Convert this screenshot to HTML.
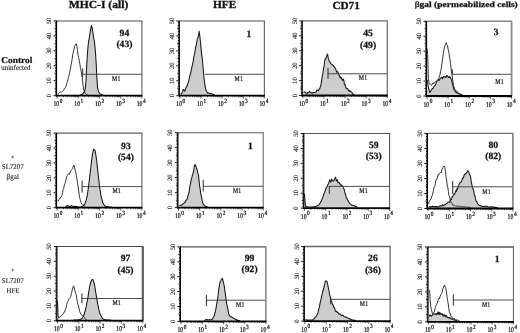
<!DOCTYPE html>
<html><head><meta charset="utf-8"><title>figure</title>
<style>
html,body{margin:0;padding:0;background:#fff;}
body{width:520px;height:333px;overflow:hidden;}
svg{display:block;filter:grayscale(1);}
text{font-family:"Liberation Serif",serif;fill:#111;text-rendering:geometricPrecision;}
.ttl{font-size:10.8px;font-weight:bold;stroke:#111;stroke-width:0.3px;}
.ttl2{font-size:8px;font-weight:bold;stroke:#111;stroke-width:0.25px;}
.num{font-size:9.6px;font-weight:bold;stroke:#111;stroke-width:0.25px;}
.m1{font-size:7.3px;fill:#111;stroke:#111;stroke-width:0.2px;letter-spacing:0.3px;}
.xl{font-size:7.3px;fill:#000;stroke:#000;stroke-width:0.2px;}
.sup{font-size:6.3px;fill:#000;stroke:#000;stroke-width:0.2px;}
.yl{font-size:6.6px;fill:#111;stroke:#111;stroke-width:0.1px;}
.rl1{font-size:9px;font-weight:bold;stroke:#111;stroke-width:0.2px;}
.rl2{font-size:7.3px;fill:#222;stroke:#222;stroke-width:0.12px;}
.plus{font-size:6px;fill:#111;font-weight:bold;}
</style></head><body>
<svg width="520" height="333" viewBox="0 0 520 333">
<rect width="520" height="333" fill="#fff"/>
<path d="M79.5 95.1L80.1 94.9L80.7 94.8L81.3 94.7L81.9 94.3L82.5 94.0L83.1 93.4L83.7 92.6L84.3 91.9L84.9 90.3L85.5 86.3L86.1 78.7L86.7 65.3L87.3 56.0L87.9 47.9L88.5 42.0L89.1 38.9L89.7 34.7L90.3 31.3L90.9 28.2L91.5 25.4L92.1 27.6L92.7 31.3L93.3 35.4L93.9 39.0L94.5 42.4L95.1 48.4L95.7 55.8L96.3 65.7L96.9 78.6L97.5 87.0L98.1 90.1L98.7 91.8L99.3 92.7L99.9 93.5L100.5 94.1L101.1 94.2L101.7 94.6L102.3 94.8L102.9 95.0L103.5 95.0L103.5 95.1 L79.5 95.1 Z" fill="#cdcdcd" stroke="none"/>
<path d="M79.5 95.1L80.1 94.9L80.7 94.8L81.3 94.7L81.9 94.3L82.5 94.0L83.1 93.4L83.7 92.6L84.3 91.9L84.9 90.3L85.5 86.3L86.1 78.7L86.7 65.3L87.3 56.0L87.9 47.9L88.5 42.0L89.1 38.9L89.7 34.7L90.3 31.3L90.9 28.2L91.5 25.4L92.1 27.6L92.7 31.3L93.3 35.4L93.9 39.0L94.5 42.4L95.1 48.4L95.7 55.8L96.3 65.7L96.9 78.6L97.5 87.0L98.1 90.1L98.7 91.8L99.3 92.7L99.9 93.5L100.5 94.1L101.1 94.2L101.7 94.6L102.3 94.8L102.9 95.0L103.5 95.0" fill="none" stroke="#151515" stroke-width="1.05" stroke-linejoin="round"/>
<path d="M57.7 93.9L58.3 93.7L58.9 93.0L59.5 92.5L60.1 92.4L60.7 92.0L61.3 92.0L61.9 91.8L62.5 91.4L63.1 90.7L63.7 90.2L64.3 88.6L64.9 88.4L65.5 87.2L66.1 86.0L66.7 83.4L67.3 81.8L67.9 79.6L68.5 77.6L69.1 74.8L69.7 72.3L70.3 69.3L70.9 66.0L71.5 62.9L72.1 59.2L72.7 54.9L73.3 52.1L73.9 49.6L74.5 46.7L75.1 45.3L75.7 44.2L76.3 43.8L76.9 46.4L77.5 50.4L78.1 55.2L78.7 57.7L79.3 60.6L79.9 64.2L80.5 68.2L81.1 70.9L81.7 74.9L82.3 77.8L82.9 84.2L83.5 88.9L84.1 91.0L84.7 92.5L85.3 93.4L85.9 93.9L86.5 94.3L87.1 94.7L87.7 94.8" fill="none" stroke="#2a2a2a" stroke-width="0.95" stroke-linejoin="round"/>
<path d="M82.7 74.3 H141.9" stroke="#3a3a3a" stroke-width="0.9" fill="none"/>
<path d="M82.7 68.3 V77.3" stroke="#2a2a2a" stroke-width="1" fill="none"/>
<text transform="translate(116.4 80.9) scale(0.8 1)" class="m1" text-anchor="middle">M1</text>
<path d="M56.6 20.9 H142.4" stroke="#8a8a8a" stroke-width="1.5" fill="none"/>
<path d="M141.9 20.9 V95.7" stroke="#4a4a4a" stroke-width="1.0" fill="none"/>
<path d="M56.5 20.6 V96.6" stroke="#000" stroke-width="1.2" fill="none"/>
<path d="M55.9 95.7 H142.4" stroke="#000" stroke-width="1.8" fill="none"/>
<path d="M56.5 95.70 h-3.0M56.5 94.20 h-1.4M56.5 92.71 h-1.4M56.5 91.21 h-1.4M56.5 89.72 h-1.4M56.5 88.22 h-2.0M56.5 86.72 h-1.4M56.5 85.23 h-1.4M56.5 83.73 h-1.4M56.5 82.24 h-1.4M56.5 80.74 h-3.0M56.5 79.24 h-1.4M56.5 77.75 h-1.4M56.5 76.25 h-1.4M56.5 74.76 h-1.4M56.5 73.26 h-2.0M56.5 71.76 h-1.4M56.5 70.27 h-1.4M56.5 68.77 h-1.4M56.5 67.28 h-1.4M56.5 65.78 h-3.0M56.5 64.28 h-1.4M56.5 62.79 h-1.4M56.5 61.29 h-1.4M56.5 59.80 h-1.4M56.5 58.30 h-2.0M56.5 56.80 h-1.4M56.5 55.31 h-1.4M56.5 53.81 h-1.4M56.5 52.32 h-1.4M56.5 50.82 h-3.0M56.5 49.32 h-1.4M56.5 47.83 h-1.4M56.5 46.33 h-1.4M56.5 44.84 h-1.4M56.5 43.34 h-2.0M56.5 41.84 h-1.4M56.5 40.35 h-1.4M56.5 38.85 h-1.4M56.5 37.36 h-1.4M56.5 35.86 h-3.0M56.5 34.36 h-1.4M56.5 32.87 h-1.4M56.5 31.37 h-1.4M56.5 29.88 h-1.4M56.5 28.38 h-2.0M56.5 26.88 h-1.4M56.5 25.39 h-1.4M56.5 23.89 h-1.4M56.5 22.40 h-1.4M56.5 20.90 h-3.0" stroke="#000" stroke-width="0.95" fill="none"/>
<path d="M57.10 95.7 v2.8M63.48 95.7 v1.6M67.21 95.7 v1.6M69.86 95.7 v1.6M71.92 95.7 v1.6M73.60 95.7 v1.6M75.02 95.7 v1.6M76.25 95.7 v1.6M77.33 95.7 v1.6M78.30 95.7 v2.8M84.68 95.7 v1.6M88.41 95.7 v1.6M91.06 95.7 v1.6M93.12 95.7 v1.6M94.80 95.7 v1.6M96.22 95.7 v1.6M97.45 95.7 v1.6M98.53 95.7 v1.6M99.50 95.7 v2.8M105.88 95.7 v1.6M109.61 95.7 v1.6M112.26 95.7 v1.6M114.32 95.7 v1.6M116.00 95.7 v1.6M117.42 95.7 v1.6M118.65 95.7 v1.6M119.73 95.7 v1.6M120.70 95.7 v2.8M127.08 95.7 v1.6M130.81 95.7 v1.6M133.46 95.7 v1.6M135.52 95.7 v1.6M137.20 95.7 v1.6M138.62 95.7 v1.6M139.85 95.7 v1.6M140.93 95.7 v1.6M141.90 95.7 v2.8" stroke="#000" stroke-width="0.6" fill="none"/>
<text transform="translate(53.5 106.3) scale(0.78 1)" class="xl">10</text>
<text transform="translate(59.8 103.0) scale(0.85 1)" class="sup">0</text>
<text transform="translate(74.3 106.3) scale(0.78 1)" class="xl">10</text>
<text transform="translate(80.6 103.0) scale(0.85 1)" class="sup">1</text>
<text transform="translate(95.1 106.3) scale(0.78 1)" class="xl">10</text>
<text transform="translate(101.4 103.0) scale(0.85 1)" class="sup">2</text>
<text transform="translate(115.9 106.3) scale(0.78 1)" class="xl">10</text>
<text transform="translate(122.2 103.0) scale(0.85 1)" class="sup">3</text>
<text transform="translate(136.7 106.3) scale(0.78 1)" class="xl">10</text>
<text transform="translate(143.0 103.0) scale(0.85 1)" class="sup">4</text>
<text transform="translate(50.8 95.7) rotate(-90)" class="yl" text-anchor="middle">0</text>
<text transform="translate(50.8 80.7) rotate(-90)" class="yl" text-anchor="middle">10</text>
<text transform="translate(50.8 65.8) rotate(-90)" class="yl" text-anchor="middle">20</text>
<text transform="translate(50.8 50.8) rotate(-90)" class="yl" text-anchor="middle">30</text>
<text transform="translate(50.8 35.9) rotate(-90)" class="yl" text-anchor="middle">40</text>
<text transform="translate(50.8 20.9) rotate(-90)" class="yl" text-anchor="middle">50</text>
<text x="124.4" y="35.9" class="num" text-anchor="middle">94</text>
<text x="124.4" y="47.2" class="num" text-anchor="middle">(43)</text>
<path d="M180.6 94.4L181.2 93.6L181.8 93.3L182.4 92.2L183.0 89.8L183.6 89.6L184.2 90.4L184.8 91.1L185.4 89.5L186.0 87.7L186.6 86.2L187.2 85.8L187.8 83.6L188.4 82.1L189.0 79.5L189.6 76.8L190.2 74.4L190.8 72.3L191.4 69.3L192.0 66.6L192.6 64.2L193.2 61.2L193.8 57.1L194.4 54.5L195.0 51.5L195.6 47.5L196.2 45.4L196.8 41.9L197.4 38.3L198.0 37.5L198.6 35.3L199.2 31.2L199.8 36.1L200.4 41.3L201.0 47.6L201.6 53.9L202.2 57.9L202.8 64.2L203.4 71.8L204.0 77.8L204.6 82.6L205.2 86.3L205.8 89.8L206.4 90.9L207.0 92.1L207.6 93.1L208.2 92.8L208.8 93.0L209.4 93.4L210.0 93.5L210.6 93.6L211.2 93.5L211.8 93.9L212.4 94.0L213.0 94.4L213.6 94.4L214.2 94.6L214.8 94.9L214.8 95.1 L180.6 95.1 Z" fill="#cdcdcd" stroke="none"/>
<path d="M180.6 94.4L181.2 93.6L181.8 93.3L182.4 92.2L183.0 89.8L183.6 89.6L184.2 90.4L184.8 91.1L185.4 89.5L186.0 87.7L186.6 86.2L187.2 85.8L187.8 83.6L188.4 82.1L189.0 79.5L189.6 76.8L190.2 74.4L190.8 72.3L191.4 69.3L192.0 66.6L192.6 64.2L193.2 61.2L193.8 57.1L194.4 54.5L195.0 51.5L195.6 47.5L196.2 45.4L196.8 41.9L197.4 38.3L198.0 37.5L198.6 35.3L199.2 31.2L199.8 36.1L200.4 41.3L201.0 47.6L201.6 53.9L202.2 57.9L202.8 64.2L203.4 71.8L204.0 77.8L204.6 82.6L205.2 86.3L205.8 89.8L206.4 90.9L207.0 92.1L207.6 93.1L208.2 92.8L208.8 93.0L209.4 93.4L210.0 93.5L210.6 93.6L211.2 93.5L211.8 93.9L212.4 94.0L213.0 94.4L213.6 94.4L214.2 94.6L214.8 94.9" fill="none" stroke="#151515" stroke-width="1.05" stroke-linejoin="round"/>
<path d="M204.9 74.3 H264.4" stroke="#3a3a3a" stroke-width="0.9" fill="none"/>
<text transform="translate(238.8 80.7) scale(0.8 1)" class="m1" text-anchor="middle">M1</text>
<path d="M179.4 21.0 H264.9" stroke="#8a8a8a" stroke-width="1.4" fill="none"/>
<path d="M264.4 21.0 V95.7" stroke="#6a6a6a" stroke-width="1.2" fill="none"/>
<path d="M179.3 20.7 V96.6" stroke="#000" stroke-width="1.2" fill="none"/>
<path d="M178.7 95.7 H264.9" stroke="#000" stroke-width="1.8" fill="none"/>
<path d="M179.3 95.70 h-3.0M179.3 94.21 h-1.4M179.3 92.71 h-1.4M179.3 91.22 h-1.4M179.3 89.72 h-1.4M179.3 88.23 h-2.0M179.3 86.74 h-1.4M179.3 85.24 h-1.4M179.3 83.75 h-1.4M179.3 82.25 h-1.4M179.3 80.76 h-3.0M179.3 79.27 h-1.4M179.3 77.77 h-1.4M179.3 76.28 h-1.4M179.3 74.78 h-1.4M179.3 73.29 h-2.0M179.3 71.80 h-1.4M179.3 70.30 h-1.4M179.3 68.81 h-1.4M179.3 67.31 h-1.4M179.3 65.82 h-3.0M179.3 64.33 h-1.4M179.3 62.83 h-1.4M179.3 61.34 h-1.4M179.3 59.84 h-1.4M179.3 58.35 h-2.0M179.3 56.86 h-1.4M179.3 55.36 h-1.4M179.3 53.87 h-1.4M179.3 52.37 h-1.4M179.3 50.88 h-3.0M179.3 49.39 h-1.4M179.3 47.89 h-1.4M179.3 46.40 h-1.4M179.3 44.90 h-1.4M179.3 43.41 h-2.0M179.3 41.92 h-1.4M179.3 40.42 h-1.4M179.3 38.93 h-1.4M179.3 37.43 h-1.4M179.3 35.94 h-3.0M179.3 34.45 h-1.4M179.3 32.95 h-1.4M179.3 31.46 h-1.4M179.3 29.96 h-1.4M179.3 28.47 h-2.0M179.3 26.98 h-1.4M179.3 25.48 h-1.4M179.3 23.99 h-1.4M179.3 22.49 h-1.4M179.3 21.00 h-3.0" stroke="#000" stroke-width="0.95" fill="none"/>
<path d="M179.90 95.7 v2.8M186.26 95.7 v1.6M189.98 95.7 v1.6M192.62 95.7 v1.6M194.67 95.7 v1.6M196.34 95.7 v1.6M197.75 95.7 v1.6M198.98 95.7 v1.6M200.06 95.7 v1.6M201.03 95.7 v2.8M207.38 95.7 v1.6M211.10 95.7 v1.6M213.74 95.7 v1.6M215.79 95.7 v1.6M217.46 95.7 v1.6M218.88 95.7 v1.6M220.10 95.7 v1.6M221.18 95.7 v1.6M222.15 95.7 v2.8M228.51 95.7 v1.6M232.23 95.7 v1.6M234.87 95.7 v1.6M236.92 95.7 v1.6M238.59 95.7 v1.6M240.00 95.7 v1.6M241.23 95.7 v1.6M242.31 95.7 v1.6M243.27 95.7 v2.8M249.63 95.7 v1.6M253.35 95.7 v1.6M255.99 95.7 v1.6M258.04 95.7 v1.6M259.71 95.7 v1.6M261.13 95.7 v1.6M262.35 95.7 v1.6M263.43 95.7 v1.6M264.40 95.7 v2.8" stroke="#000" stroke-width="0.6" fill="none"/>
<text transform="translate(176.3 106.3) scale(0.78 1)" class="xl">10</text>
<text transform="translate(182.6 103.0) scale(0.85 1)" class="sup">0</text>
<text transform="translate(197.1 106.3) scale(0.78 1)" class="xl">10</text>
<text transform="translate(203.4 103.0) scale(0.85 1)" class="sup">1</text>
<text transform="translate(217.9 106.3) scale(0.78 1)" class="xl">10</text>
<text transform="translate(224.2 103.0) scale(0.85 1)" class="sup">2</text>
<text transform="translate(238.7 106.3) scale(0.78 1)" class="xl">10</text>
<text transform="translate(245.0 103.0) scale(0.85 1)" class="sup">3</text>
<text transform="translate(259.5 106.3) scale(0.78 1)" class="xl">10</text>
<text transform="translate(265.8 103.0) scale(0.85 1)" class="sup">4</text>
<text transform="translate(173.6 95.7) rotate(-90)" class="yl" text-anchor="middle">0</text>
<text transform="translate(173.6 80.8) rotate(-90)" class="yl" text-anchor="middle">10</text>
<text transform="translate(173.6 65.8) rotate(-90)" class="yl" text-anchor="middle">20</text>
<text transform="translate(173.6 50.9) rotate(-90)" class="yl" text-anchor="middle">30</text>
<text transform="translate(173.6 35.9) rotate(-90)" class="yl" text-anchor="middle">40</text>
<text transform="translate(173.6 21.0) rotate(-90)" class="yl" text-anchor="middle">50</text>
<text x="248.9" y="36.6" class="num" text-anchor="middle">1</text>
<path d="M303.6 92.7L304.2 91.8L304.8 92.1L305.4 92.3L306.0 92.8L306.6 93.5L307.2 93.5L307.8 92.4L308.4 92.5L309.0 92.2L309.6 91.2L310.2 92.2L310.8 92.4L311.4 93.1L312.0 92.9L312.6 93.1L313.2 92.4L313.8 92.2L314.4 92.7L315.0 92.7L315.6 92.4L316.2 92.0L316.8 90.1L317.4 90.1L318.0 90.4L318.6 90.7L319.2 88.7L319.8 88.5L320.4 86.5L321.0 84.2L321.6 81.2L322.2 76.4L322.8 74.1L323.4 69.2L324.0 66.4L324.6 61.5L325.2 58.7L325.8 58.7L326.4 56.6L327.0 55.3L327.6 54.1L328.2 57.9L328.8 59.6L329.4 61.7L330.0 62.1L330.6 63.3L331.2 64.1L331.8 64.2L332.4 65.0L333.0 65.0L333.6 66.4L334.2 66.6L334.8 67.7L335.4 68.1L336.0 69.9L336.6 72.2L337.2 71.2L337.8 72.0L338.4 73.2L339.0 75.2L339.6 75.8L340.2 78.0L340.8 76.9L341.4 78.1L342.0 79.3L342.6 80.5L343.2 79.0L343.8 80.1L344.4 84.6L345.0 84.4L345.6 86.7L346.2 88.3L346.8 88.8L347.4 88.6L348.0 89.1L348.6 91.0L349.2 90.4L349.8 91.6L350.4 91.1L351.0 92.0L351.6 92.1L352.2 92.9L352.8 94.0L353.4 94.1L354.0 94.7L354.6 94.9L354.6 94.9 L303.6 94.9 Z" fill="#cdcdcd" stroke="none"/>
<path d="M303.6 92.7L304.2 91.8L304.8 92.1L305.4 92.3L306.0 92.8L306.6 93.5L307.2 93.5L307.8 92.4L308.4 92.5L309.0 92.2L309.6 91.2L310.2 92.2L310.8 92.4L311.4 93.1L312.0 92.9L312.6 93.1L313.2 92.4L313.8 92.2L314.4 92.7L315.0 92.7L315.6 92.4L316.2 92.0L316.8 90.1L317.4 90.1L318.0 90.4L318.6 90.7L319.2 88.7L319.8 88.5L320.4 86.5L321.0 84.2L321.6 81.2L322.2 76.4L322.8 74.1L323.4 69.2L324.0 66.4L324.6 61.5L325.2 58.7L325.8 58.7L326.4 56.6L327.0 55.3L327.6 54.1L328.2 57.9L328.8 59.6L329.4 61.7L330.0 62.1L330.6 63.3L331.2 64.1L331.8 64.2L332.4 65.0L333.0 65.0L333.6 66.4L334.2 66.6L334.8 67.7L335.4 68.1L336.0 69.9L336.6 72.2L337.2 71.2L337.8 72.0L338.4 73.2L339.0 75.2L339.6 75.8L340.2 78.0L340.8 76.9L341.4 78.1L342.0 79.3L342.6 80.5L343.2 79.0L343.8 80.1L344.4 84.6L345.0 84.4L345.6 86.7L346.2 88.3L346.8 88.8L347.4 88.6L348.0 89.1L348.6 91.0L349.2 90.4L349.8 91.6L350.4 91.1L351.0 92.0L351.6 92.1L352.2 92.9L352.8 94.0L353.4 94.1L354.0 94.7L354.6 94.9" fill="none" stroke="#151515" stroke-width="1.05" stroke-linejoin="round"/>
<path d="M328.0 73.8 H387.3" stroke="#3a3a3a" stroke-width="0.9" fill="none"/>
<path d="M328.0 67.8 V78.8" stroke="#2a2a2a" stroke-width="1" fill="none"/>
<text transform="translate(363.1 80.4) scale(0.8 1)" class="m1" text-anchor="middle">M1</text>
<path d="M302.3 20.9 H387.8" stroke="#6a6a6a" stroke-width="1.2" fill="none"/>
<path d="M387.3 20.9 V95.5" stroke="#6a6a6a" stroke-width="1.2" fill="none"/>
<path d="M302.2 20.6 V96.4" stroke="#000" stroke-width="1.2" fill="none"/>
<path d="M301.6 95.5 H387.8" stroke="#000" stroke-width="1.8" fill="none"/>
<path d="M302.2 95.50 h-3.0M302.2 94.01 h-1.4M302.2 92.52 h-1.4M302.2 91.02 h-1.4M302.2 89.53 h-1.4M302.2 88.04 h-2.0M302.2 86.55 h-1.4M302.2 85.06 h-1.4M302.2 83.56 h-1.4M302.2 82.07 h-1.4M302.2 80.58 h-3.0M302.2 79.09 h-1.4M302.2 77.60 h-1.4M302.2 76.10 h-1.4M302.2 74.61 h-1.4M302.2 73.12 h-2.0M302.2 71.63 h-1.4M302.2 70.14 h-1.4M302.2 68.64 h-1.4M302.2 67.15 h-1.4M302.2 65.66 h-3.0M302.2 64.17 h-1.4M302.2 62.68 h-1.4M302.2 61.18 h-1.4M302.2 59.69 h-1.4M302.2 58.20 h-2.0M302.2 56.71 h-1.4M302.2 55.22 h-1.4M302.2 53.72 h-1.4M302.2 52.23 h-1.4M302.2 50.74 h-3.0M302.2 49.25 h-1.4M302.2 47.76 h-1.4M302.2 46.26 h-1.4M302.2 44.77 h-1.4M302.2 43.28 h-2.0M302.2 41.79 h-1.4M302.2 40.30 h-1.4M302.2 38.80 h-1.4M302.2 37.31 h-1.4M302.2 35.82 h-3.0M302.2 34.33 h-1.4M302.2 32.84 h-1.4M302.2 31.34 h-1.4M302.2 29.85 h-1.4M302.2 28.36 h-2.0M302.2 26.87 h-1.4M302.2 25.38 h-1.4M302.2 23.88 h-1.4M302.2 22.39 h-1.4M302.2 20.90 h-3.0" stroke="#000" stroke-width="0.95" fill="none"/>
<path d="M302.80 95.5 v2.8M309.16 95.5 v1.6M312.88 95.5 v1.6M315.52 95.5 v1.6M317.57 95.5 v1.6M319.24 95.5 v1.6M320.65 95.5 v1.6M321.88 95.5 v1.6M322.96 95.5 v1.6M323.93 95.5 v2.8M330.28 95.5 v1.6M334.00 95.5 v1.6M336.64 95.5 v1.6M338.69 95.5 v1.6M340.36 95.5 v1.6M341.78 95.5 v1.6M343.00 95.5 v1.6M344.08 95.5 v1.6M345.05 95.5 v2.8M351.41 95.5 v1.6M355.13 95.5 v1.6M357.77 95.5 v1.6M359.82 95.5 v1.6M361.49 95.5 v1.6M362.90 95.5 v1.6M364.13 95.5 v1.6M365.21 95.5 v1.6M366.18 95.5 v2.8M372.53 95.5 v1.6M376.25 95.5 v1.6M378.89 95.5 v1.6M380.94 95.5 v1.6M382.61 95.5 v1.6M384.03 95.5 v1.6M385.25 95.5 v1.6M386.33 95.5 v1.6M387.30 95.5 v2.8" stroke="#000" stroke-width="0.6" fill="none"/>
<text transform="translate(299.2 106.1) scale(0.78 1)" class="xl">10</text>
<text transform="translate(305.5 102.8) scale(0.85 1)" class="sup">0</text>
<text transform="translate(320.0 106.1) scale(0.78 1)" class="xl">10</text>
<text transform="translate(326.3 102.8) scale(0.85 1)" class="sup">1</text>
<text transform="translate(340.8 106.1) scale(0.78 1)" class="xl">10</text>
<text transform="translate(347.1 102.8) scale(0.85 1)" class="sup">2</text>
<text transform="translate(361.6 106.1) scale(0.78 1)" class="xl">10</text>
<text transform="translate(367.9 102.8) scale(0.85 1)" class="sup">3</text>
<text transform="translate(382.4 106.1) scale(0.78 1)" class="xl">10</text>
<text transform="translate(388.7 102.8) scale(0.85 1)" class="sup">4</text>
<text transform="translate(296.5 95.5) rotate(-90)" class="yl" text-anchor="middle">0</text>
<text transform="translate(296.5 80.6) rotate(-90)" class="yl" text-anchor="middle">10</text>
<text transform="translate(296.5 65.7) rotate(-90)" class="yl" text-anchor="middle">20</text>
<text transform="translate(296.5 50.7) rotate(-90)" class="yl" text-anchor="middle">30</text>
<text transform="translate(296.5 35.8) rotate(-90)" class="yl" text-anchor="middle">40</text>
<text transform="translate(296.5 20.9) rotate(-90)" class="yl" text-anchor="middle">50</text>
<text x="368.1" y="36.2" class="num" text-anchor="middle">45</text>
<text x="368.1" y="47.6" class="num" text-anchor="middle">(49)</text>
<path d="M427.5 80.3L428.1 86.0L428.7 88.6L429.3 91.2L429.9 92.4L430.5 91.8L431.1 90.3L431.7 89.5L432.3 88.6L432.9 88.7L433.5 87.0L434.1 86.6L434.7 85.9L435.3 85.1L435.9 84.0L436.5 81.4L437.1 80.8L437.7 80.2L438.3 79.6L438.9 80.6L439.5 79.9L440.1 78.7L440.7 78.1L441.3 77.5L441.9 77.1L442.5 78.7L443.1 77.1L443.7 76.6L444.3 76.8L444.9 77.3L445.5 76.5L446.1 77.4L446.7 75.4L447.3 75.7L447.9 76.7L448.5 77.5L449.1 76.4L449.7 77.5L450.3 77.3L450.9 78.2L451.5 80.1L452.1 82.4L452.7 84.7L453.3 87.1L453.9 89.4L454.5 90.5L455.1 90.7L455.7 92.2L456.3 92.7L456.9 92.5L457.5 93.2L458.1 93.3L458.7 93.6L459.3 94.0L459.9 93.9L460.5 94.6L461.1 94.7L461.7 95.0L462.3 95.0L462.3 95.4 L427.5 95.4 Z" fill="#cdcdcd" stroke="none"/>
<path d="M427.5 80.3L428.1 86.0L428.7 88.6L429.3 91.2L429.9 92.4L430.5 91.8L431.1 90.3L431.7 89.5L432.3 88.6L432.9 88.7L433.5 87.0L434.1 86.6L434.7 85.9L435.3 85.1L435.9 84.0L436.5 81.4L437.1 80.8L437.7 80.2L438.3 79.6L438.9 80.6L439.5 79.9L440.1 78.7L440.7 78.1L441.3 77.5L441.9 77.1L442.5 78.7L443.1 77.1L443.7 76.6L444.3 76.8L444.9 77.3L445.5 76.5L446.1 77.4L446.7 75.4L447.3 75.7L447.9 76.7L448.5 77.5L449.1 76.4L449.7 77.5L450.3 77.3L450.9 78.2L451.5 80.1L452.1 82.4L452.7 84.7L453.3 87.1L453.9 89.4L454.5 90.5L455.1 90.7L455.7 92.2L456.3 92.7L456.9 92.5L457.5 93.2L458.1 93.3L458.7 93.6L459.3 94.0L459.9 93.9L460.5 94.6L461.1 94.7L461.7 95.0L462.3 95.0" fill="none" stroke="#151515" stroke-width="1.05" stroke-linejoin="round"/>
<path d="M427.1 48.5L427.7 54.7L428.3 78.3L428.9 82.6L429.5 84.1L430.1 84.4L430.7 84.3L431.3 85.4L431.9 84.8L432.5 83.0L433.1 84.0L433.7 82.8L434.3 83.1L434.9 82.2L435.5 81.5L436.1 81.7L436.7 81.5L437.3 81.0L437.9 79.8L438.5 78.8L439.1 77.6L439.7 75.5L440.3 73.0L440.9 70.4L441.5 67.0L442.1 62.2L442.7 58.3L443.3 53.6L443.9 50.0L444.5 46.9L445.1 45.4L445.7 43.7L446.3 42.7L446.9 44.8L447.5 45.5L448.1 49.5L448.7 51.2L449.3 55.7L449.9 58.9L450.5 63.7L451.1 68.7L451.7 72.9L452.3 77.0L452.9 81.0L453.5 85.6L454.1 87.1L454.7 89.1L455.3 89.5L455.9 90.6L456.5 91.2L457.1 91.3L457.7 92.3L458.3 92.8L458.9 93.4L459.5 93.4L460.1 94.1L460.7 94.4L461.3 94.5L461.9 94.7L462.5 94.9L463.1 95.0" fill="none" stroke="#2a2a2a" stroke-width="0.95" stroke-linejoin="round"/>
<path d="M452.3 74.3 H511.6" stroke="#3a3a3a" stroke-width="0.9" fill="none"/>
<path d="M452.3 69.3 V74.3" stroke="#2a2a2a" stroke-width="1" fill="none"/>
<text transform="translate(499.6 83.6) scale(0.8 1)" class="m1" text-anchor="middle">M1</text>
<path d="M426.6 21.3 H512.1" stroke="#8a8a8a" stroke-width="1.4" fill="none"/>
<path d="M511.6 21.3 V96.0" stroke="#8a8a8a" stroke-width="1.8" fill="none"/>
<path d="M426.5 21.0 V96.9" stroke="#000" stroke-width="1.2" fill="none"/>
<path d="M425.9 96.0 H512.1" stroke="#000" stroke-width="1.8" fill="none"/>
<path d="M426.5 96.00 h-3.0M426.5 94.51 h-1.4M426.5 93.01 h-1.4M426.5 91.52 h-1.4M426.5 90.02 h-1.4M426.5 88.53 h-2.0M426.5 87.04 h-1.4M426.5 85.54 h-1.4M426.5 84.05 h-1.4M426.5 82.55 h-1.4M426.5 81.06 h-3.0M426.5 79.57 h-1.4M426.5 78.07 h-1.4M426.5 76.58 h-1.4M426.5 75.08 h-1.4M426.5 73.59 h-2.0M426.5 72.10 h-1.4M426.5 70.60 h-1.4M426.5 69.11 h-1.4M426.5 67.61 h-1.4M426.5 66.12 h-3.0M426.5 64.63 h-1.4M426.5 63.13 h-1.4M426.5 61.64 h-1.4M426.5 60.14 h-1.4M426.5 58.65 h-2.0M426.5 57.16 h-1.4M426.5 55.66 h-1.4M426.5 54.17 h-1.4M426.5 52.67 h-1.4M426.5 51.18 h-3.0M426.5 49.69 h-1.4M426.5 48.19 h-1.4M426.5 46.70 h-1.4M426.5 45.20 h-1.4M426.5 43.71 h-2.0M426.5 42.22 h-1.4M426.5 40.72 h-1.4M426.5 39.23 h-1.4M426.5 37.73 h-1.4M426.5 36.24 h-3.0M426.5 34.75 h-1.4M426.5 33.25 h-1.4M426.5 31.76 h-1.4M426.5 30.26 h-1.4M426.5 28.77 h-2.0M426.5 27.28 h-1.4M426.5 25.78 h-1.4M426.5 24.29 h-1.4M426.5 22.79 h-1.4M426.5 21.30 h-3.0" stroke="#000" stroke-width="0.95" fill="none"/>
<path d="M427.10 96.0 v2.8M433.46 96.0 v1.6M437.18 96.0 v1.6M439.82 96.0 v1.6M441.87 96.0 v1.6M443.54 96.0 v1.6M444.95 96.0 v1.6M446.18 96.0 v1.6M447.26 96.0 v1.6M448.23 96.0 v2.8M454.58 96.0 v1.6M458.30 96.0 v1.6M460.94 96.0 v1.6M462.99 96.0 v1.6M464.66 96.0 v1.6M466.08 96.0 v1.6M467.30 96.0 v1.6M468.38 96.0 v1.6M469.35 96.0 v2.8M475.71 96.0 v1.6M479.43 96.0 v1.6M482.07 96.0 v1.6M484.12 96.0 v1.6M485.79 96.0 v1.6M487.20 96.0 v1.6M488.43 96.0 v1.6M489.51 96.0 v1.6M490.48 96.0 v2.8M496.83 96.0 v1.6M500.55 96.0 v1.6M503.19 96.0 v1.6M505.24 96.0 v1.6M506.91 96.0 v1.6M508.33 96.0 v1.6M509.55 96.0 v1.6M510.63 96.0 v1.6M511.60 96.0 v2.8" stroke="#000" stroke-width="0.6" fill="none"/>
<text transform="translate(423.5 106.6) scale(0.78 1)" class="xl">10</text>
<text transform="translate(429.8 103.3) scale(0.85 1)" class="sup">0</text>
<text transform="translate(444.3 106.6) scale(0.78 1)" class="xl">10</text>
<text transform="translate(450.6 103.3) scale(0.85 1)" class="sup">1</text>
<text transform="translate(465.1 106.6) scale(0.78 1)" class="xl">10</text>
<text transform="translate(471.4 103.3) scale(0.85 1)" class="sup">2</text>
<text transform="translate(485.9 106.6) scale(0.78 1)" class="xl">10</text>
<text transform="translate(492.2 103.3) scale(0.85 1)" class="sup">3</text>
<text transform="translate(506.7 106.6) scale(0.78 1)" class="xl">10</text>
<text transform="translate(513.0 103.3) scale(0.85 1)" class="sup">4</text>
<text transform="translate(420.8 96.0) rotate(-90)" class="yl" text-anchor="middle">0</text>
<text transform="translate(420.8 81.1) rotate(-90)" class="yl" text-anchor="middle">10</text>
<text transform="translate(420.8 66.1) rotate(-90)" class="yl" text-anchor="middle">20</text>
<text transform="translate(420.8 51.2) rotate(-90)" class="yl" text-anchor="middle">30</text>
<text transform="translate(420.8 36.2) rotate(-90)" class="yl" text-anchor="middle">40</text>
<text transform="translate(420.8 21.3) rotate(-90)" class="yl" text-anchor="middle">50</text>
<text x="496.2" y="35.3" class="num" text-anchor="middle">3</text>
<path d="M65.5 206.9L66.1 206.3L66.7 206.0L67.3 205.7L67.9 205.8L68.5 206.0L69.1 206.5L69.7 206.5L70.3 206.1L70.9 205.9L71.5 205.6L72.1 206.0L72.7 206.2L73.3 206.5L73.9 206.4L74.5 206.3L75.1 206.4L75.7 206.3L76.3 206.6L76.9 206.8L77.5 207.0L78.1 207.1L78.7 207.0L79.3 207.0L79.9 206.9L80.5 206.9L81.1 206.8L81.7 206.5L82.3 206.4L82.9 206.1L83.5 205.4L84.1 204.7L84.7 204.1L85.3 202.4L85.9 201.0L86.5 198.7L87.1 196.5L87.7 192.2L88.3 188.5L88.9 183.6L89.5 178.5L90.1 173.9L90.7 168.2L91.3 163.1L91.9 158.2L92.5 154.2L93.1 151.4L93.7 149.2L94.3 149.6L94.9 150.2L95.5 152.9L96.1 156.5L96.7 160.7L97.3 166.2L97.9 172.0L98.5 177.2L99.1 182.2L99.7 187.8L100.3 190.9L100.9 195.7L101.5 197.7L102.1 200.1L102.7 202.6L103.3 203.5L103.9 204.7L104.5 205.3L105.1 206.0L105.7 206.4L106.3 206.6L106.9 206.6L107.5 206.9L108.1 206.8L108.7 206.9L109.3 206.9L109.9 207.0L110.5 207.1L111.1 207.1L111.7 207.0L111.7 207.1 L65.5 207.1 Z" fill="#cdcdcd" stroke="none"/>
<path d="M65.5 206.9L66.1 206.3L66.7 206.0L67.3 205.7L67.9 205.8L68.5 206.0L69.1 206.5L69.7 206.5L70.3 206.1L70.9 205.9L71.5 205.6L72.1 206.0L72.7 206.2L73.3 206.5L73.9 206.4L74.5 206.3L75.1 206.4L75.7 206.3L76.3 206.6L76.9 206.8L77.5 207.0L78.1 207.1L78.7 207.0L79.3 207.0L79.9 206.9L80.5 206.9L81.1 206.8L81.7 206.5L82.3 206.4L82.9 206.1L83.5 205.4L84.1 204.7L84.7 204.1L85.3 202.4L85.9 201.0L86.5 198.7L87.1 196.5L87.7 192.2L88.3 188.5L88.9 183.6L89.5 178.5L90.1 173.9L90.7 168.2L91.3 163.1L91.9 158.2L92.5 154.2L93.1 151.4L93.7 149.2L94.3 149.6L94.9 150.2L95.5 152.9L96.1 156.5L96.7 160.7L97.3 166.2L97.9 172.0L98.5 177.2L99.1 182.2L99.7 187.8L100.3 190.9L100.9 195.7L101.5 197.7L102.1 200.1L102.7 202.6L103.3 203.5L103.9 204.7L104.5 205.3L105.1 206.0L105.7 206.4L106.3 206.6L106.9 206.6L107.5 206.9L108.1 206.8L108.7 206.9L109.3 206.9L109.9 207.0L110.5 207.1L111.1 207.1L111.7 207.0" fill="none" stroke="#151515" stroke-width="1.05" stroke-linejoin="round"/>
<path d="M57.7 201.2L58.3 201.1L58.9 199.6L59.5 198.3L60.1 198.6L60.7 197.0L61.3 196.9L61.9 195.5L62.5 192.7L63.1 189.6L63.7 188.4L64.3 185.2L64.9 183.6L65.5 182.0L66.1 179.1L66.7 176.7L67.3 175.6L67.9 174.3L68.5 173.7L69.1 174.5L69.7 172.6L70.3 172.5L70.9 170.7L71.5 169.8L72.1 169.1L72.7 168.5L73.3 166.1L73.9 165.1L74.5 166.9L75.1 170.3L75.7 171.7L76.3 175.3L76.9 178.9L77.5 182.6L78.1 186.8L78.7 191.1L79.3 195.5L79.9 198.5L80.5 200.9L81.1 202.5L81.7 203.9L82.3 204.6L82.9 205.3L83.5 205.6L84.1 205.8L84.7 206.2L85.3 206.3" fill="none" stroke="#2a2a2a" stroke-width="0.95" stroke-linejoin="round"/>
<path d="M82.1 186.6 H141.9" stroke="#3a3a3a" stroke-width="0.9" fill="none"/>
<path d="M82.1 180.6 V192.6" stroke="#2a2a2a" stroke-width="1" fill="none"/>
<text transform="translate(116.7 193.2) scale(0.8 1)" class="m1" text-anchor="middle">M1</text>
<path d="M56.6 133.1 H142.4" stroke="#606060" stroke-width="1.1" fill="none"/>
<path d="M141.9 133.1 V207.7" stroke="#4a4a4a" stroke-width="1.0" fill="none"/>
<path d="M56.5 132.8 V208.6" stroke="#000" stroke-width="1.2" fill="none"/>
<path d="M55.9 207.7 H142.4" stroke="#000" stroke-width="1.8" fill="none"/>
<path d="M56.5 207.70 h-3.0M56.5 206.21 h-1.4M56.5 204.72 h-1.4M56.5 203.22 h-1.4M56.5 201.73 h-1.4M56.5 200.24 h-2.0M56.5 198.75 h-1.4M56.5 197.26 h-1.4M56.5 195.76 h-1.4M56.5 194.27 h-1.4M56.5 192.78 h-3.0M56.5 191.29 h-1.4M56.5 189.80 h-1.4M56.5 188.30 h-1.4M56.5 186.81 h-1.4M56.5 185.32 h-2.0M56.5 183.83 h-1.4M56.5 182.34 h-1.4M56.5 180.84 h-1.4M56.5 179.35 h-1.4M56.5 177.86 h-3.0M56.5 176.37 h-1.4M56.5 174.88 h-1.4M56.5 173.38 h-1.4M56.5 171.89 h-1.4M56.5 170.40 h-2.0M56.5 168.91 h-1.4M56.5 167.42 h-1.4M56.5 165.92 h-1.4M56.5 164.43 h-1.4M56.5 162.94 h-3.0M56.5 161.45 h-1.4M56.5 159.96 h-1.4M56.5 158.46 h-1.4M56.5 156.97 h-1.4M56.5 155.48 h-2.0M56.5 153.99 h-1.4M56.5 152.50 h-1.4M56.5 151.00 h-1.4M56.5 149.51 h-1.4M56.5 148.02 h-3.0M56.5 146.53 h-1.4M56.5 145.04 h-1.4M56.5 143.54 h-1.4M56.5 142.05 h-1.4M56.5 140.56 h-2.0M56.5 139.07 h-1.4M56.5 137.58 h-1.4M56.5 136.08 h-1.4M56.5 134.59 h-1.4M56.5 133.10 h-3.0" stroke="#000" stroke-width="0.95" fill="none"/>
<path d="M57.10 207.7 v2.8M63.48 207.7 v1.6M67.21 207.7 v1.6M69.86 207.7 v1.6M71.92 207.7 v1.6M73.60 207.7 v1.6M75.02 207.7 v1.6M76.25 207.7 v1.6M77.33 207.7 v1.6M78.30 207.7 v2.8M84.68 207.7 v1.6M88.41 207.7 v1.6M91.06 207.7 v1.6M93.12 207.7 v1.6M94.80 207.7 v1.6M96.22 207.7 v1.6M97.45 207.7 v1.6M98.53 207.7 v1.6M99.50 207.7 v2.8M105.88 207.7 v1.6M109.61 207.7 v1.6M112.26 207.7 v1.6M114.32 207.7 v1.6M116.00 207.7 v1.6M117.42 207.7 v1.6M118.65 207.7 v1.6M119.73 207.7 v1.6M120.70 207.7 v2.8M127.08 207.7 v1.6M130.81 207.7 v1.6M133.46 207.7 v1.6M135.52 207.7 v1.6M137.20 207.7 v1.6M138.62 207.7 v1.6M139.85 207.7 v1.6M140.93 207.7 v1.6M141.90 207.7 v2.8" stroke="#000" stroke-width="0.6" fill="none"/>
<text transform="translate(53.5 218.3) scale(0.78 1)" class="xl">10</text>
<text transform="translate(59.8 215.0) scale(0.85 1)" class="sup">0</text>
<text transform="translate(74.3 218.3) scale(0.78 1)" class="xl">10</text>
<text transform="translate(80.6 215.0) scale(0.85 1)" class="sup">1</text>
<text transform="translate(95.1 218.3) scale(0.78 1)" class="xl">10</text>
<text transform="translate(101.4 215.0) scale(0.85 1)" class="sup">2</text>
<text transform="translate(115.9 218.3) scale(0.78 1)" class="xl">10</text>
<text transform="translate(122.2 215.0) scale(0.85 1)" class="sup">3</text>
<text transform="translate(136.7 218.3) scale(0.78 1)" class="xl">10</text>
<text transform="translate(143.0 215.0) scale(0.85 1)" class="sup">4</text>
<text transform="translate(50.8 207.7) rotate(-90)" class="yl" text-anchor="middle">0</text>
<text transform="translate(50.8 192.8) rotate(-90)" class="yl" text-anchor="middle">10</text>
<text transform="translate(50.8 177.9) rotate(-90)" class="yl" text-anchor="middle">20</text>
<text transform="translate(50.8 162.9) rotate(-90)" class="yl" text-anchor="middle">30</text>
<text transform="translate(50.8 148.0) rotate(-90)" class="yl" text-anchor="middle">40</text>
<text transform="translate(50.8 133.1) rotate(-90)" class="yl" text-anchor="middle">50</text>
<text x="125.9" y="148.6" class="num" text-anchor="middle">93</text>
<text x="125.9" y="160.3" class="num" text-anchor="middle">(54)</text>
<path d="M179.2 205.4L179.8 205.3L180.4 205.3L181.0 205.2L181.6 205.2L182.2 204.3L182.8 204.1L183.4 203.4L184.0 203.3L184.6 202.3L185.2 202.3L185.8 200.7L186.4 199.9L187.0 199.3L187.6 197.2L188.2 194.8L188.8 193.6L189.4 189.6L190.0 185.3L190.6 183.4L191.2 179.7L191.8 177.8L192.4 175.1L193.0 173.5L193.6 171.2L194.2 167.0L194.8 164.7L195.4 164.7L196.0 166.7L196.6 168.6L197.2 169.7L197.8 173.2L198.4 174.9L199.0 180.0L199.6 185.8L200.2 189.2L200.8 194.2L201.4 196.4L202.0 199.4L202.6 202.5L203.2 203.9L203.8 204.8L204.4 205.4L205.0 205.8L205.6 206.6L206.2 206.6L206.8 206.7L207.4 206.9L208.0 206.9L208.0 207.1 L179.2 207.1 Z" fill="#cdcdcd" stroke="none"/>
<path d="M179.2 205.4L179.8 205.3L180.4 205.3L181.0 205.2L181.6 205.2L182.2 204.3L182.8 204.1L183.4 203.4L184.0 203.3L184.6 202.3L185.2 202.3L185.8 200.7L186.4 199.9L187.0 199.3L187.6 197.2L188.2 194.8L188.8 193.6L189.4 189.6L190.0 185.3L190.6 183.4L191.2 179.7L191.8 177.8L192.4 175.1L193.0 173.5L193.6 171.2L194.2 167.0L194.8 164.7L195.4 164.7L196.0 166.7L196.6 168.6L197.2 169.7L197.8 173.2L198.4 174.9L199.0 180.0L199.6 185.8L200.2 189.2L200.8 194.2L201.4 196.4L202.0 199.4L202.6 202.5L203.2 203.9L203.8 204.8L204.4 205.4L205.0 205.8L205.6 206.6L206.2 206.6L206.8 206.7L207.4 206.9L208.0 206.9" fill="none" stroke="#151515" stroke-width="1.05" stroke-linejoin="round"/>
<path d="M203.2 186.3 H263.2" stroke="#3a3a3a" stroke-width="0.9" fill="none"/>
<path d="M203.2 179.8 V191.4" stroke="#2a2a2a" stroke-width="1" fill="none"/>
<text transform="translate(237.2 192.7) scale(0.8 1)" class="m1" text-anchor="middle">M1</text>
<path d="M178.0 132.7 H263.7" stroke="#606060" stroke-width="1.1" fill="none"/>
<path d="M263.2 132.7 V207.7" stroke="#5a5a5a" stroke-width="1.0" fill="none"/>
<path d="M177.9 132.4 V208.6" stroke="#000" stroke-width="1.2" fill="none"/>
<path d="M177.3 207.7 H263.7" stroke="#000" stroke-width="1.8" fill="none"/>
<path d="M177.9 207.70 h-3.0M177.9 206.20 h-1.4M177.9 204.70 h-1.4M177.9 203.20 h-1.4M177.9 201.70 h-1.4M177.9 200.20 h-2.0M177.9 198.70 h-1.4M177.9 197.20 h-1.4M177.9 195.70 h-1.4M177.9 194.20 h-1.4M177.9 192.70 h-3.0M177.9 191.20 h-1.4M177.9 189.70 h-1.4M177.9 188.20 h-1.4M177.9 186.70 h-1.4M177.9 185.20 h-2.0M177.9 183.70 h-1.4M177.9 182.20 h-1.4M177.9 180.70 h-1.4M177.9 179.20 h-1.4M177.9 177.70 h-3.0M177.9 176.20 h-1.4M177.9 174.70 h-1.4M177.9 173.20 h-1.4M177.9 171.70 h-1.4M177.9 170.20 h-2.0M177.9 168.70 h-1.4M177.9 167.20 h-1.4M177.9 165.70 h-1.4M177.9 164.20 h-1.4M177.9 162.70 h-3.0M177.9 161.20 h-1.4M177.9 159.70 h-1.4M177.9 158.20 h-1.4M177.9 156.70 h-1.4M177.9 155.20 h-2.0M177.9 153.70 h-1.4M177.9 152.20 h-1.4M177.9 150.70 h-1.4M177.9 149.20 h-1.4M177.9 147.70 h-3.0M177.9 146.20 h-1.4M177.9 144.70 h-1.4M177.9 143.20 h-1.4M177.9 141.70 h-1.4M177.9 140.20 h-2.0M177.9 138.70 h-1.4M177.9 137.20 h-1.4M177.9 135.70 h-1.4M177.9 134.20 h-1.4M177.9 132.70 h-3.0" stroke="#000" stroke-width="0.95" fill="none"/>
<path d="M178.50 207.7 v2.8M184.87 207.7 v1.6M188.60 207.7 v1.6M191.25 207.7 v1.6M193.30 207.7 v1.6M194.98 207.7 v1.6M196.39 207.7 v1.6M197.62 207.7 v1.6M198.71 207.7 v1.6M199.68 207.7 v2.8M206.05 207.7 v1.6M209.78 207.7 v1.6M212.42 207.7 v1.6M214.48 207.7 v1.6M216.15 207.7 v1.6M217.57 207.7 v1.6M218.80 207.7 v1.6M219.88 207.7 v1.6M220.85 207.7 v2.8M227.22 207.7 v1.6M230.95 207.7 v1.6M233.60 207.7 v1.6M235.65 207.7 v1.6M237.33 207.7 v1.6M238.74 207.7 v1.6M239.97 207.7 v1.6M241.06 207.7 v1.6M242.02 207.7 v2.8M248.40 207.7 v1.6M252.13 207.7 v1.6M254.77 207.7 v1.6M256.83 207.7 v1.6M258.50 207.7 v1.6M259.92 207.7 v1.6M261.15 207.7 v1.6M262.23 207.7 v1.6M263.20 207.7 v2.8" stroke="#000" stroke-width="0.6" fill="none"/>
<text transform="translate(174.9 218.3) scale(0.78 1)" class="xl">10</text>
<text transform="translate(181.2 215.0) scale(0.85 1)" class="sup">0</text>
<text transform="translate(195.7 218.3) scale(0.78 1)" class="xl">10</text>
<text transform="translate(202.0 215.0) scale(0.85 1)" class="sup">1</text>
<text transform="translate(216.5 218.3) scale(0.78 1)" class="xl">10</text>
<text transform="translate(222.8 215.0) scale(0.85 1)" class="sup">2</text>
<text transform="translate(237.3 218.3) scale(0.78 1)" class="xl">10</text>
<text transform="translate(243.6 215.0) scale(0.85 1)" class="sup">3</text>
<text transform="translate(258.1 218.3) scale(0.78 1)" class="xl">10</text>
<text transform="translate(264.4 215.0) scale(0.85 1)" class="sup">4</text>
<text transform="translate(172.2 207.7) rotate(-90)" class="yl" text-anchor="middle">0</text>
<text transform="translate(172.2 192.7) rotate(-90)" class="yl" text-anchor="middle">10</text>
<text transform="translate(172.2 177.7) rotate(-90)" class="yl" text-anchor="middle">20</text>
<text transform="translate(172.2 162.7) rotate(-90)" class="yl" text-anchor="middle">30</text>
<text transform="translate(172.2 147.7) rotate(-90)" class="yl" text-anchor="middle">40</text>
<text transform="translate(172.2 132.7) rotate(-90)" class="yl" text-anchor="middle">50</text>
<text x="250.4" y="148.6" class="num" text-anchor="middle">1</text>
<path d="M304.4 193.8L305.0 201.0L305.6 205.8L306.2 206.8L306.8 206.7L307.4 206.8L308.0 207.0L308.6 206.9L309.2 207.0L309.8 206.9L310.4 207.0L311.0 207.0L311.6 206.9L312.2 206.8L312.8 207.0L313.4 206.9L314.0 206.7L314.6 206.6L315.2 206.6L315.8 206.6L316.4 206.1L317.0 206.2L317.6 205.5L318.2 205.4L318.8 205.0L319.4 204.3L320.0 203.4L320.6 201.8L321.2 201.6L321.8 199.9L322.4 198.3L323.0 196.9L323.6 194.6L324.2 193.4L324.8 191.7L325.4 190.1L326.0 188.1L326.6 187.4L327.2 186.5L327.8 184.8L328.4 183.7L329.0 182.6L329.6 179.9L330.2 181.2L330.8 182.1L331.4 179.1L332.0 179.8L332.6 181.0L333.2 180.9L333.8 181.1L334.4 179.1L335.0 178.3L335.6 177.3L336.2 180.1L336.8 180.9L337.4 179.7L338.0 182.8L338.6 182.4L339.2 182.5L339.8 184.0L340.4 184.0L341.0 185.4L341.6 185.1L342.2 185.7L342.8 186.4L343.4 187.8L344.0 189.1L344.6 191.0L345.2 193.8L345.8 195.2L346.4 198.0L347.0 198.5L347.6 200.1L348.2 200.8L348.8 201.9L349.4 203.2L350.0 203.7L350.6 204.0L351.2 204.9L351.8 204.9L352.4 205.3L353.0 205.6L353.6 205.8L354.2 205.6L354.8 206.1L355.4 206.3L356.0 206.5L356.6 206.6L357.2 207.2L357.2 207.5 L304.4 207.5 Z" fill="#cdcdcd" stroke="none"/>
<path d="M304.4 193.8L305.0 201.0L305.6 205.8L306.2 206.8L306.8 206.7L307.4 206.8L308.0 207.0L308.6 206.9L309.2 207.0L309.8 206.9L310.4 207.0L311.0 207.0L311.6 206.9L312.2 206.8L312.8 207.0L313.4 206.9L314.0 206.7L314.6 206.6L315.2 206.6L315.8 206.6L316.4 206.1L317.0 206.2L317.6 205.5L318.2 205.4L318.8 205.0L319.4 204.3L320.0 203.4L320.6 201.8L321.2 201.6L321.8 199.9L322.4 198.3L323.0 196.9L323.6 194.6L324.2 193.4L324.8 191.7L325.4 190.1L326.0 188.1L326.6 187.4L327.2 186.5L327.8 184.8L328.4 183.7L329.0 182.6L329.6 179.9L330.2 181.2L330.8 182.1L331.4 179.1L332.0 179.8L332.6 181.0L333.2 180.9L333.8 181.1L334.4 179.1L335.0 178.3L335.6 177.3L336.2 180.1L336.8 180.9L337.4 179.7L338.0 182.8L338.6 182.4L339.2 182.5L339.8 184.0L340.4 184.0L341.0 185.4L341.6 185.1L342.2 185.7L342.8 186.4L343.4 187.8L344.0 189.1L344.6 191.0L345.2 193.8L345.8 195.2L346.4 198.0L347.0 198.5L347.6 200.1L348.2 200.8L348.8 201.9L349.4 203.2L350.0 203.7L350.6 204.0L351.2 204.9L351.8 204.9L352.4 205.3L353.0 205.6L353.6 205.8L354.2 205.6L354.8 206.1L355.4 206.3L356.0 206.5L356.6 206.6L357.2 207.2" fill="none" stroke="#151515" stroke-width="1.05" stroke-linejoin="round"/>
<path d="M329.3 186.4 H389.6" stroke="#3a3a3a" stroke-width="0.9" fill="none"/>
<path d="M329.3 185.9 V193.9" stroke="#2a2a2a" stroke-width="1" fill="none"/>
<text transform="translate(363.5 193.3) scale(0.8 1)" class="m1" text-anchor="middle">M1</text>
<path d="M303.9 133.5 H390.1" stroke="#555" stroke-width="1.1" fill="none"/>
<path d="M389.6 133.5 V208.1" stroke="#4a4a4a" stroke-width="1.0" fill="none"/>
<path d="M303.8 133.2 V209.0" stroke="#000" stroke-width="1.2" fill="none"/>
<path d="M303.2 208.1 H390.1" stroke="#000" stroke-width="1.8" fill="none"/>
<path d="M303.8 208.10 h-3.0M303.8 206.61 h-1.4M303.8 205.12 h-1.4M303.8 203.62 h-1.4M303.8 202.13 h-1.4M303.8 200.64 h-2.0M303.8 199.15 h-1.4M303.8 197.66 h-1.4M303.8 196.16 h-1.4M303.8 194.67 h-1.4M303.8 193.18 h-3.0M303.8 191.69 h-1.4M303.8 190.20 h-1.4M303.8 188.70 h-1.4M303.8 187.21 h-1.4M303.8 185.72 h-2.0M303.8 184.23 h-1.4M303.8 182.74 h-1.4M303.8 181.24 h-1.4M303.8 179.75 h-1.4M303.8 178.26 h-3.0M303.8 176.77 h-1.4M303.8 175.28 h-1.4M303.8 173.78 h-1.4M303.8 172.29 h-1.4M303.8 170.80 h-2.0M303.8 169.31 h-1.4M303.8 167.82 h-1.4M303.8 166.32 h-1.4M303.8 164.83 h-1.4M303.8 163.34 h-3.0M303.8 161.85 h-1.4M303.8 160.36 h-1.4M303.8 158.86 h-1.4M303.8 157.37 h-1.4M303.8 155.88 h-2.0M303.8 154.39 h-1.4M303.8 152.90 h-1.4M303.8 151.40 h-1.4M303.8 149.91 h-1.4M303.8 148.42 h-3.0M303.8 146.93 h-1.4M303.8 145.44 h-1.4M303.8 143.94 h-1.4M303.8 142.45 h-1.4M303.8 140.96 h-2.0M303.8 139.47 h-1.4M303.8 137.98 h-1.4M303.8 136.48 h-1.4M303.8 134.99 h-1.4M303.8 133.50 h-3.0" stroke="#000" stroke-width="0.95" fill="none"/>
<path d="M304.40 208.1 v2.8M310.81 208.1 v1.6M314.56 208.1 v1.6M317.22 208.1 v1.6M319.29 208.1 v1.6M320.97 208.1 v1.6M322.40 208.1 v1.6M323.64 208.1 v1.6M324.73 208.1 v1.6M325.70 208.1 v2.8M332.11 208.1 v1.6M335.86 208.1 v1.6M338.52 208.1 v1.6M340.59 208.1 v1.6M342.27 208.1 v1.6M343.70 208.1 v1.6M344.94 208.1 v1.6M346.03 208.1 v1.6M347.00 208.1 v2.8M353.41 208.1 v1.6M357.16 208.1 v1.6M359.82 208.1 v1.6M361.89 208.1 v1.6M363.57 208.1 v1.6M365.00 208.1 v1.6M366.24 208.1 v1.6M367.33 208.1 v1.6M368.30 208.1 v2.8M374.71 208.1 v1.6M378.46 208.1 v1.6M381.12 208.1 v1.6M383.19 208.1 v1.6M384.87 208.1 v1.6M386.30 208.1 v1.6M387.54 208.1 v1.6M388.63 208.1 v1.6M389.60 208.1 v2.8" stroke="#000" stroke-width="0.6" fill="none"/>
<text transform="translate(300.8 218.7) scale(0.78 1)" class="xl">10</text>
<text transform="translate(307.1 215.4) scale(0.85 1)" class="sup">0</text>
<text transform="translate(321.6 218.7) scale(0.78 1)" class="xl">10</text>
<text transform="translate(327.9 215.4) scale(0.85 1)" class="sup">1</text>
<text transform="translate(342.4 218.7) scale(0.78 1)" class="xl">10</text>
<text transform="translate(348.7 215.4) scale(0.85 1)" class="sup">2</text>
<text transform="translate(363.2 218.7) scale(0.78 1)" class="xl">10</text>
<text transform="translate(369.5 215.4) scale(0.85 1)" class="sup">3</text>
<text transform="translate(384.0 218.7) scale(0.78 1)" class="xl">10</text>
<text transform="translate(390.3 215.4) scale(0.85 1)" class="sup">4</text>
<text transform="translate(298.1 208.1) rotate(-90)" class="yl" text-anchor="middle">0</text>
<text transform="translate(298.1 193.2) rotate(-90)" class="yl" text-anchor="middle">10</text>
<text transform="translate(298.1 178.3) rotate(-90)" class="yl" text-anchor="middle">20</text>
<text transform="translate(298.1 163.3) rotate(-90)" class="yl" text-anchor="middle">30</text>
<text transform="translate(298.1 148.4) rotate(-90)" class="yl" text-anchor="middle">40</text>
<text transform="translate(298.1 133.5) rotate(-90)" class="yl" text-anchor="middle">50</text>
<text x="373.7" y="147.7" class="num" text-anchor="middle">59</text>
<text x="373.7" y="159.0" class="num" text-anchor="middle">(53)</text>
<path d="M428.7 207.3L429.3 206.7L429.9 207.0L430.5 206.6L431.1 206.9L431.7 206.7L432.3 206.1L432.9 206.6L433.5 206.4L434.1 206.5L434.7 206.6L435.3 206.6L435.9 206.9L436.5 206.5L437.1 207.0L437.7 206.8L438.3 206.9L438.9 206.6L439.5 206.3L440.1 205.7L440.7 205.9L441.3 206.0L441.9 205.8L442.5 204.9L443.1 205.7L443.7 205.0L444.3 205.0L444.9 204.5L445.5 204.5L446.1 203.7L446.7 203.6L447.3 203.0L447.9 202.0L448.5 202.1L449.1 202.4L449.7 202.0L450.3 199.3L450.9 199.6L451.5 199.5L452.1 196.6L452.7 196.6L453.3 195.3L453.9 193.9L454.5 194.4L455.1 193.2L455.7 190.7L456.3 191.6L456.9 188.8L457.5 189.4L458.1 186.7L458.7 185.5L459.3 183.7L459.9 182.8L460.5 182.4L461.1 182.0L461.7 181.0L462.3 178.8L462.9 177.8L463.5 177.9L464.1 174.8L464.7 174.9L465.3 173.5L465.9 173.8L466.5 172.7L467.1 172.1L467.7 170.6L468.3 171.2L468.9 172.2L469.5 174.3L470.1 175.2L470.7 177.4L471.3 182.2L471.9 184.6L472.5 187.9L473.1 189.1L473.7 190.6L474.3 194.8L474.9 195.4L475.5 198.7L476.1 201.3L476.7 201.3L477.3 203.1L477.9 204.1L478.5 204.5L479.1 205.3L479.7 205.5L480.3 205.7L480.9 205.9L481.5 205.8L482.1 206.2L482.7 206.4L483.3 206.5L483.9 206.5L484.5 206.2L485.1 206.4L485.7 206.1L486.3 206.4L486.9 206.3L487.5 206.2L488.1 206.9L488.7 207.0L489.3 207.0L489.9 206.9L490.5 206.8L491.1 206.8L491.7 207.1L492.3 206.8L492.9 207.4L493.5 207.0L494.1 207.4L494.7 207.2L495.3 207.6L495.9 207.3L496.5 207.4L497.1 207.4L497.7 207.6L497.7 207.9 L428.7 207.9 Z" fill="#cdcdcd" stroke="none"/>
<path d="M428.7 207.3L429.3 206.7L429.9 207.0L430.5 206.6L431.1 206.9L431.7 206.7L432.3 206.1L432.9 206.6L433.5 206.4L434.1 206.5L434.7 206.6L435.3 206.6L435.9 206.9L436.5 206.5L437.1 207.0L437.7 206.8L438.3 206.9L438.9 206.6L439.5 206.3L440.1 205.7L440.7 205.9L441.3 206.0L441.9 205.8L442.5 204.9L443.1 205.7L443.7 205.0L444.3 205.0L444.9 204.5L445.5 204.5L446.1 203.7L446.7 203.6L447.3 203.0L447.9 202.0L448.5 202.1L449.1 202.4L449.7 202.0L450.3 199.3L450.9 199.6L451.5 199.5L452.1 196.6L452.7 196.6L453.3 195.3L453.9 193.9L454.5 194.4L455.1 193.2L455.7 190.7L456.3 191.6L456.9 188.8L457.5 189.4L458.1 186.7L458.7 185.5L459.3 183.7L459.9 182.8L460.5 182.4L461.1 182.0L461.7 181.0L462.3 178.8L462.9 177.8L463.5 177.9L464.1 174.8L464.7 174.9L465.3 173.5L465.9 173.8L466.5 172.7L467.1 172.1L467.7 170.6L468.3 171.2L468.9 172.2L469.5 174.3L470.1 175.2L470.7 177.4L471.3 182.2L471.9 184.6L472.5 187.9L473.1 189.1L473.7 190.6L474.3 194.8L474.9 195.4L475.5 198.7L476.1 201.3L476.7 201.3L477.3 203.1L477.9 204.1L478.5 204.5L479.1 205.3L479.7 205.5L480.3 205.7L480.9 205.9L481.5 205.8L482.1 206.2L482.7 206.4L483.3 206.5L483.9 206.5L484.5 206.2L485.1 206.4L485.7 206.1L486.3 206.4L486.9 206.3L487.5 206.2L488.1 206.9L488.7 207.0L489.3 207.0L489.9 206.9L490.5 206.8L491.1 206.8L491.7 207.1L492.3 206.8L492.9 207.4L493.5 207.0L494.1 207.4L494.7 207.2L495.3 207.6L495.9 207.3L496.5 207.4L497.1 207.4L497.7 207.6" fill="none" stroke="#151515" stroke-width="1.05" stroke-linejoin="round"/>
<path d="M428.6 204.0L429.2 201.7L429.8 200.2L430.4 199.8L431.0 198.5L431.6 197.0L432.2 195.4L432.8 193.0L433.4 190.8L434.0 187.0L434.6 186.6L435.2 184.7L435.8 180.8L436.4 178.9L437.0 179.2L437.6 177.0L438.2 174.1L438.8 174.8L439.4 173.5L440.0 172.7L440.6 172.1L441.2 172.9L441.8 169.9L442.4 168.2L443.0 167.7L443.6 166.9L444.2 165.9L444.8 167.4L445.4 171.2L446.0 176.9L446.6 179.8L447.2 185.0L447.8 187.6L448.4 191.3L449.0 195.6L449.6 196.9L450.2 199.0L450.8 202.2L451.4 202.9L452.0 203.2L452.6 204.9L453.2 205.1L453.8 205.1L454.4 205.6L455.0 205.4L455.6 206.1L456.2 205.9L456.8 206.0L457.4 206.5L458.0 206.0L458.6 206.0L459.2 206.0L459.8 206.6L460.4 206.4L461.0 206.7L461.6 206.3L462.2 206.4L462.8 206.3L463.4 206.8L464.0 206.8L464.6 207.0L465.2 206.5L465.8 206.8L466.4 207.1L467.0 206.9L467.6 207.1L468.2 207.2L468.8 207.1L469.4 207.2L470.0 207.4L470.6 207.6" fill="none" stroke="#2a2a2a" stroke-width="0.95" stroke-linejoin="round"/>
<path d="M452.7 186.8 H512.9" stroke="#3a3a3a" stroke-width="0.9" fill="none"/>
<path d="M452.7 180.9 V193.8" stroke="#2a2a2a" stroke-width="1" fill="none"/>
<text transform="translate(486.5 193.8) scale(0.8 1)" class="m1" text-anchor="middle">M1</text>
<path d="M427.5 133.4 H513.4" stroke="#777" stroke-width="1.3" fill="none"/>
<path d="M512.9 133.4 V208.5" stroke="#8a8a8a" stroke-width="1.8" fill="none"/>
<path d="M427.4 133.1 V209.4" stroke="#000" stroke-width="1.2" fill="none"/>
<path d="M426.8 208.5 H513.4" stroke="#000" stroke-width="1.8" fill="none"/>
<path d="M427.4 208.50 h-3.0M427.4 207.00 h-1.4M427.4 205.50 h-1.4M427.4 203.99 h-1.4M427.4 202.49 h-1.4M427.4 200.99 h-2.0M427.4 199.49 h-1.4M427.4 197.99 h-1.4M427.4 196.48 h-1.4M427.4 194.98 h-1.4M427.4 193.48 h-3.0M427.4 191.98 h-1.4M427.4 190.48 h-1.4M427.4 188.97 h-1.4M427.4 187.47 h-1.4M427.4 185.97 h-2.0M427.4 184.47 h-1.4M427.4 182.97 h-1.4M427.4 181.46 h-1.4M427.4 179.96 h-1.4M427.4 178.46 h-3.0M427.4 176.96 h-1.4M427.4 175.46 h-1.4M427.4 173.95 h-1.4M427.4 172.45 h-1.4M427.4 170.95 h-2.0M427.4 169.45 h-1.4M427.4 167.95 h-1.4M427.4 166.44 h-1.4M427.4 164.94 h-1.4M427.4 163.44 h-3.0M427.4 161.94 h-1.4M427.4 160.44 h-1.4M427.4 158.93 h-1.4M427.4 157.43 h-1.4M427.4 155.93 h-2.0M427.4 154.43 h-1.4M427.4 152.93 h-1.4M427.4 151.42 h-1.4M427.4 149.92 h-1.4M427.4 148.42 h-3.0M427.4 146.92 h-1.4M427.4 145.42 h-1.4M427.4 143.91 h-1.4M427.4 142.41 h-1.4M427.4 140.91 h-2.0M427.4 139.41 h-1.4M427.4 137.91 h-1.4M427.4 136.40 h-1.4M427.4 134.90 h-1.4M427.4 133.40 h-3.0" stroke="#000" stroke-width="0.95" fill="none"/>
<path d="M428.00 208.5 v2.8M434.39 208.5 v1.6M438.13 208.5 v1.6M440.78 208.5 v1.6M442.84 208.5 v1.6M444.52 208.5 v1.6M445.94 208.5 v1.6M447.17 208.5 v1.6M448.25 208.5 v1.6M449.23 208.5 v2.8M455.61 208.5 v1.6M459.35 208.5 v1.6M462.00 208.5 v1.6M464.06 208.5 v1.6M465.74 208.5 v1.6M467.16 208.5 v1.6M468.39 208.5 v1.6M469.48 208.5 v1.6M470.45 208.5 v2.8M476.84 208.5 v1.6M480.58 208.5 v1.6M483.23 208.5 v1.6M485.29 208.5 v1.6M486.97 208.5 v1.6M488.39 208.5 v1.6M489.62 208.5 v1.6M490.70 208.5 v1.6M491.67 208.5 v2.8M498.06 208.5 v1.6M501.80 208.5 v1.6M504.45 208.5 v1.6M506.51 208.5 v1.6M508.19 208.5 v1.6M509.61 208.5 v1.6M510.84 208.5 v1.6M511.93 208.5 v1.6M512.90 208.5 v2.8" stroke="#000" stroke-width="0.6" fill="none"/>
<text transform="translate(424.4 219.1) scale(0.78 1)" class="xl">10</text>
<text transform="translate(430.7 215.8) scale(0.85 1)" class="sup">0</text>
<text transform="translate(445.2 219.1) scale(0.78 1)" class="xl">10</text>
<text transform="translate(451.5 215.8) scale(0.85 1)" class="sup">1</text>
<text transform="translate(466.0 219.1) scale(0.78 1)" class="xl">10</text>
<text transform="translate(472.3 215.8) scale(0.85 1)" class="sup">2</text>
<text transform="translate(486.8 219.1) scale(0.78 1)" class="xl">10</text>
<text transform="translate(493.1 215.8) scale(0.85 1)" class="sup">3</text>
<text transform="translate(507.6 219.1) scale(0.78 1)" class="xl">10</text>
<text transform="translate(513.9 215.8) scale(0.85 1)" class="sup">4</text>
<text transform="translate(421.7 208.5) rotate(-90)" class="yl" text-anchor="middle">0</text>
<text transform="translate(421.7 193.5) rotate(-90)" class="yl" text-anchor="middle">10</text>
<text transform="translate(421.7 178.5) rotate(-90)" class="yl" text-anchor="middle">20</text>
<text transform="translate(421.7 163.4) rotate(-90)" class="yl" text-anchor="middle">30</text>
<text transform="translate(421.7 148.4) rotate(-90)" class="yl" text-anchor="middle">40</text>
<text transform="translate(421.7 133.4) rotate(-90)" class="yl" text-anchor="middle">50</text>
<text x="493.2" y="147.7" class="num" text-anchor="middle">80</text>
<text x="493.2" y="159.2" class="num" text-anchor="middle">(82)</text>
<path d="M73.2 320.1L73.8 320.1L74.4 320.1L75.0 320.0L75.6 320.1L76.2 320.0L76.8 319.9L77.4 320.0L78.0 319.9L78.6 319.8L79.2 319.8L79.8 319.6L80.4 319.3L81.0 319.0L81.6 318.5L82.2 318.1L82.8 317.3L83.4 316.4L84.0 314.8L84.6 312.7L85.2 311.0L85.8 308.2L86.4 305.9L87.0 302.2L87.6 299.5L88.2 295.6L88.8 291.5L89.4 288.0L90.0 285.1L90.6 282.9L91.2 281.0L91.8 279.9L92.4 279.5L93.0 279.7L93.6 281.9L94.2 283.2L94.8 286.3L95.4 290.5L96.0 293.8L96.6 297.3L97.2 301.4L97.8 304.4L98.4 306.8L99.0 310.4L99.6 312.1L100.2 314.4L100.8 315.5L101.4 316.5L102.0 317.8L102.6 318.5L103.2 318.9L103.8 319.2L104.4 319.6L105.0 319.7L105.6 319.8L106.2 319.8L106.8 319.9L107.4 320.0L108.0 320.0L108.6 320.1L109.2 320.0L109.8 320.1L110.4 320.1L111.0 320.0L111.0 320.1 L73.2 320.1 Z" fill="#cdcdcd" stroke="none"/>
<path d="M73.2 320.1L73.8 320.1L74.4 320.1L75.0 320.0L75.6 320.1L76.2 320.0L76.8 319.9L77.4 320.0L78.0 319.9L78.6 319.8L79.2 319.8L79.8 319.6L80.4 319.3L81.0 319.0L81.6 318.5L82.2 318.1L82.8 317.3L83.4 316.4L84.0 314.8L84.6 312.7L85.2 311.0L85.8 308.2L86.4 305.9L87.0 302.2L87.6 299.5L88.2 295.6L88.8 291.5L89.4 288.0L90.0 285.1L90.6 282.9L91.2 281.0L91.8 279.9L92.4 279.5L93.0 279.7L93.6 281.9L94.2 283.2L94.8 286.3L95.4 290.5L96.0 293.8L96.6 297.3L97.2 301.4L97.8 304.4L98.4 306.8L99.0 310.4L99.6 312.1L100.2 314.4L100.8 315.5L101.4 316.5L102.0 317.8L102.6 318.5L103.2 318.9L103.8 319.2L104.4 319.6L105.0 319.7L105.6 319.8L106.2 319.8L106.8 319.9L107.4 320.0L108.0 320.0L108.6 320.1L109.2 320.0L109.8 320.1L110.4 320.1L111.0 320.0" fill="none" stroke="#151515" stroke-width="1.05" stroke-linejoin="round"/>
<path d="M57.5 300.7L58.1 315.2L58.7 318.1L59.3 318.0L59.9 317.2L60.5 316.3L61.1 316.2L61.7 315.7L62.3 314.7L62.9 314.4L63.5 313.8L64.1 311.9L64.7 311.9L65.3 309.5L65.9 308.1L66.5 306.1L67.1 302.8L67.7 301.8L68.3 300.6L68.9 298.8L69.5 298.3L70.1 297.7L70.7 296.8L71.3 293.8L71.9 291.4L72.5 289.0L73.1 286.8L73.7 285.9L74.3 287.8L74.9 290.5L75.5 293.2L76.1 294.4L76.7 298.4L77.3 301.4L77.9 304.2L78.5 306.1L79.1 308.9L79.7 311.6L80.3 313.0L80.9 314.3L81.5 314.8L82.1 315.0L82.7 315.6L83.3 316.5L83.9 316.6L84.5 317.6L85.1 318.7L85.7 319.2L86.3 319.6L86.9 319.9" fill="none" stroke="#2a2a2a" stroke-width="0.95" stroke-linejoin="round"/>
<path d="M81.9 298.5 H142.8" stroke="#3a3a3a" stroke-width="0.9" fill="none"/>
<path d="M81.9 293.3 V303.3" stroke="#2a2a2a" stroke-width="1" fill="none"/>
<text transform="translate(116.7 305.1) scale(0.8 1)" class="m1" text-anchor="middle">M1</text>
<path d="M57.0 246.5 H143.3" stroke="#444" stroke-width="1.2" fill="none"/>
<path d="M142.8 246.5 V320.7" stroke="#555" stroke-width="2.1" fill="none"/>
<path d="M56.9 246.2 V321.6" stroke="#000" stroke-width="1.2" fill="none"/>
<path d="M56.3 320.7 H143.3" stroke="#000" stroke-width="1.8" fill="none"/>
<path d="M56.9 320.70 h-3.0M56.9 319.22 h-1.4M56.9 317.73 h-1.4M56.9 316.25 h-1.4M56.9 314.76 h-1.4M56.9 313.28 h-2.0M56.9 311.80 h-1.4M56.9 310.31 h-1.4M56.9 308.83 h-1.4M56.9 307.34 h-1.4M56.9 305.86 h-3.0M56.9 304.38 h-1.4M56.9 302.89 h-1.4M56.9 301.41 h-1.4M56.9 299.92 h-1.4M56.9 298.44 h-2.0M56.9 296.96 h-1.4M56.9 295.47 h-1.4M56.9 293.99 h-1.4M56.9 292.50 h-1.4M56.9 291.02 h-3.0M56.9 289.54 h-1.4M56.9 288.05 h-1.4M56.9 286.57 h-1.4M56.9 285.08 h-1.4M56.9 283.60 h-2.0M56.9 282.12 h-1.4M56.9 280.63 h-1.4M56.9 279.15 h-1.4M56.9 277.66 h-1.4M56.9 276.18 h-3.0M56.9 274.70 h-1.4M56.9 273.21 h-1.4M56.9 271.73 h-1.4M56.9 270.24 h-1.4M56.9 268.76 h-2.0M56.9 267.28 h-1.4M56.9 265.79 h-1.4M56.9 264.31 h-1.4M56.9 262.82 h-1.4M56.9 261.34 h-3.0M56.9 259.86 h-1.4M56.9 258.37 h-1.4M56.9 256.89 h-1.4M56.9 255.40 h-1.4M56.9 253.92 h-2.0M56.9 252.44 h-1.4M56.9 250.95 h-1.4M56.9 249.47 h-1.4M56.9 247.98 h-1.4M56.9 246.50 h-3.0" stroke="#000" stroke-width="0.95" fill="none"/>
<path d="M57.50 320.7 v2.8M63.92 320.7 v1.6M67.67 320.7 v1.6M70.34 320.7 v1.6M72.41 320.7 v1.6M74.09 320.7 v1.6M75.52 320.7 v1.6M76.76 320.7 v1.6M77.85 320.7 v1.6M78.83 320.7 v2.8M85.24 320.7 v1.6M89.00 320.7 v1.6M91.66 320.7 v1.6M93.73 320.7 v1.6M95.42 320.7 v1.6M96.85 320.7 v1.6M98.08 320.7 v1.6M99.17 320.7 v1.6M100.15 320.7 v2.8M106.57 320.7 v1.6M110.32 320.7 v1.6M112.99 320.7 v1.6M115.06 320.7 v1.6M116.74 320.7 v1.6M118.17 320.7 v1.6M119.41 320.7 v1.6M120.50 320.7 v1.6M121.48 320.7 v2.8M127.89 320.7 v1.6M131.65 320.7 v1.6M134.31 320.7 v1.6M136.38 320.7 v1.6M138.07 320.7 v1.6M139.50 320.7 v1.6M140.73 320.7 v1.6M141.82 320.7 v1.6M142.80 320.7 v2.8" stroke="#000" stroke-width="0.6" fill="none"/>
<text transform="translate(53.9 331.3) scale(0.78 1)" class="xl">10</text>
<text transform="translate(60.2 328.0) scale(0.85 1)" class="sup">0</text>
<text transform="translate(74.7 331.3) scale(0.78 1)" class="xl">10</text>
<text transform="translate(81.0 328.0) scale(0.85 1)" class="sup">1</text>
<text transform="translate(95.5 331.3) scale(0.78 1)" class="xl">10</text>
<text transform="translate(101.8 328.0) scale(0.85 1)" class="sup">2</text>
<text transform="translate(116.3 331.3) scale(0.78 1)" class="xl">10</text>
<text transform="translate(122.6 328.0) scale(0.85 1)" class="sup">3</text>
<text transform="translate(137.1 331.3) scale(0.78 1)" class="xl">10</text>
<text transform="translate(143.4 328.0) scale(0.85 1)" class="sup">4</text>
<text transform="translate(51.2 320.7) rotate(-90)" class="yl" text-anchor="middle">0</text>
<text transform="translate(51.2 305.9) rotate(-90)" class="yl" text-anchor="middle">10</text>
<text transform="translate(51.2 291.0) rotate(-90)" class="yl" text-anchor="middle">20</text>
<text transform="translate(51.2 276.2) rotate(-90)" class="yl" text-anchor="middle">30</text>
<text transform="translate(51.2 261.3) rotate(-90)" class="yl" text-anchor="middle">40</text>
<text transform="translate(51.2 246.5) rotate(-90)" class="yl" text-anchor="middle">50</text>
<text x="125.5" y="261.1" class="num" text-anchor="middle">97</text>
<text x="125.5" y="272.5" class="num" text-anchor="middle">(45)</text>
<path d="M204.5 320.6L205.1 320.1L205.7 319.7L206.3 319.7L206.9 319.4L207.5 319.8L208.1 320.2L208.7 320.1L209.3 319.5L209.9 319.6L210.5 319.9L211.1 319.8L211.7 319.5L212.3 319.3L212.9 318.0L213.5 317.1L214.1 316.0L214.7 314.3L215.3 311.4L215.9 309.0L216.5 305.4L217.1 301.7L217.7 298.6L218.3 293.3L218.9 288.7L219.5 284.9L220.1 282.1L220.7 281.0L221.3 279.5L221.9 278.8L222.5 278.3L223.1 281.1L223.7 283.6L224.3 286.3L224.9 291.2L225.5 295.1L226.1 299.4L226.7 304.1L227.3 306.7L227.9 309.4L228.5 313.1L229.1 314.8L229.7 315.8L230.3 316.8L230.9 316.8L231.5 316.8L232.1 317.3L232.7 317.6L233.3 317.7L233.9 318.6L234.5 318.7L235.1 319.2L235.7 319.4L236.3 319.9L236.9 319.8L237.5 320.2L238.1 320.4L238.7 320.3L239.3 320.4L239.9 320.6L239.9 320.8 L204.5 320.8 Z" fill="#cdcdcd" stroke="none"/>
<path d="M204.5 320.6L205.1 320.1L205.7 319.7L206.3 319.7L206.9 319.4L207.5 319.8L208.1 320.2L208.7 320.1L209.3 319.5L209.9 319.6L210.5 319.9L211.1 319.8L211.7 319.5L212.3 319.3L212.9 318.0L213.5 317.1L214.1 316.0L214.7 314.3L215.3 311.4L215.9 309.0L216.5 305.4L217.1 301.7L217.7 298.6L218.3 293.3L218.9 288.7L219.5 284.9L220.1 282.1L220.7 281.0L221.3 279.5L221.9 278.8L222.5 278.3L223.1 281.1L223.7 283.6L224.3 286.3L224.9 291.2L225.5 295.1L226.1 299.4L226.7 304.1L227.3 306.7L227.9 309.4L228.5 313.1L229.1 314.8L229.7 315.8L230.3 316.8L230.9 316.8L231.5 316.8L232.1 317.3L232.7 317.6L233.3 317.7L233.9 318.6L234.5 318.7L235.1 319.2L235.7 319.4L236.3 319.9L236.9 319.8L237.5 320.2L238.1 320.4L238.7 320.3L239.3 320.4L239.9 320.6" fill="none" stroke="#151515" stroke-width="1.05" stroke-linejoin="round"/>
<path d="M206.4 300.2 H265.9" stroke="#3a3a3a" stroke-width="0.9" fill="none"/>
<path d="M206.4 294.7 V306.0" stroke="#2a2a2a" stroke-width="1" fill="none"/>
<text transform="translate(240.4 306.6) scale(0.8 1)" class="m1" text-anchor="middle">M1</text>
<path d="M180.5 246.9 H266.4" stroke="#555" stroke-width="1.1" fill="none"/>
<path d="M265.9 246.9 V321.4" stroke="#8a8a8a" stroke-width="1.6" fill="none"/>
<path d="M180.4 246.6 V322.3" stroke="#000" stroke-width="1.2" fill="none"/>
<path d="M179.8 321.4 H266.4" stroke="#000" stroke-width="1.8" fill="none"/>
<path d="M180.4 321.40 h-3.0M180.4 319.91 h-1.4M180.4 318.42 h-1.4M180.4 316.93 h-1.4M180.4 315.44 h-1.4M180.4 313.95 h-2.0M180.4 312.46 h-1.4M180.4 310.97 h-1.4M180.4 309.48 h-1.4M180.4 307.99 h-1.4M180.4 306.50 h-3.0M180.4 305.01 h-1.4M180.4 303.52 h-1.4M180.4 302.03 h-1.4M180.4 300.54 h-1.4M180.4 299.05 h-2.0M180.4 297.56 h-1.4M180.4 296.07 h-1.4M180.4 294.58 h-1.4M180.4 293.09 h-1.4M180.4 291.60 h-3.0M180.4 290.11 h-1.4M180.4 288.62 h-1.4M180.4 287.13 h-1.4M180.4 285.64 h-1.4M180.4 284.15 h-2.0M180.4 282.66 h-1.4M180.4 281.17 h-1.4M180.4 279.68 h-1.4M180.4 278.19 h-1.4M180.4 276.70 h-3.0M180.4 275.21 h-1.4M180.4 273.72 h-1.4M180.4 272.23 h-1.4M180.4 270.74 h-1.4M180.4 269.25 h-2.0M180.4 267.76 h-1.4M180.4 266.27 h-1.4M180.4 264.78 h-1.4M180.4 263.29 h-1.4M180.4 261.80 h-3.0M180.4 260.31 h-1.4M180.4 258.82 h-1.4M180.4 257.33 h-1.4M180.4 255.84 h-1.4M180.4 254.35 h-2.0M180.4 252.86 h-1.4M180.4 251.37 h-1.4M180.4 249.88 h-1.4M180.4 248.39 h-1.4M180.4 246.90 h-3.0" stroke="#000" stroke-width="0.95" fill="none"/>
<path d="M181.00 321.4 v2.8M187.39 321.4 v1.6M191.13 321.4 v1.6M193.78 321.4 v1.6M195.84 321.4 v1.6M197.52 321.4 v1.6M198.94 321.4 v1.6M200.17 321.4 v1.6M201.25 321.4 v1.6M202.22 321.4 v2.8M208.61 321.4 v1.6M212.35 321.4 v1.6M215.00 321.4 v1.6M217.06 321.4 v1.6M218.74 321.4 v1.6M220.16 321.4 v1.6M221.39 321.4 v1.6M222.48 321.4 v1.6M223.45 321.4 v2.8M229.84 321.4 v1.6M233.58 321.4 v1.6M236.23 321.4 v1.6M238.29 321.4 v1.6M239.97 321.4 v1.6M241.39 321.4 v1.6M242.62 321.4 v1.6M243.70 321.4 v1.6M244.67 321.4 v2.8M251.06 321.4 v1.6M254.80 321.4 v1.6M257.45 321.4 v1.6M259.51 321.4 v1.6M261.19 321.4 v1.6M262.61 321.4 v1.6M263.84 321.4 v1.6M264.93 321.4 v1.6M265.90 321.4 v2.8" stroke="#000" stroke-width="0.6" fill="none"/>
<text transform="translate(177.4 332.0) scale(0.78 1)" class="xl">10</text>
<text transform="translate(183.7 328.7) scale(0.85 1)" class="sup">0</text>
<text transform="translate(198.2 332.0) scale(0.78 1)" class="xl">10</text>
<text transform="translate(204.5 328.7) scale(0.85 1)" class="sup">1</text>
<text transform="translate(219.0 332.0) scale(0.78 1)" class="xl">10</text>
<text transform="translate(225.3 328.7) scale(0.85 1)" class="sup">2</text>
<text transform="translate(239.8 332.0) scale(0.78 1)" class="xl">10</text>
<text transform="translate(246.1 328.7) scale(0.85 1)" class="sup">3</text>
<text transform="translate(260.6 332.0) scale(0.78 1)" class="xl">10</text>
<text transform="translate(266.9 328.7) scale(0.85 1)" class="sup">4</text>
<text transform="translate(174.7 321.4) rotate(-90)" class="yl" text-anchor="middle">0</text>
<text transform="translate(174.7 306.5) rotate(-90)" class="yl" text-anchor="middle">10</text>
<text transform="translate(174.7 291.6) rotate(-90)" class="yl" text-anchor="middle">20</text>
<text transform="translate(174.7 276.7) rotate(-90)" class="yl" text-anchor="middle">30</text>
<text transform="translate(174.7 261.8) rotate(-90)" class="yl" text-anchor="middle">40</text>
<text transform="translate(174.7 246.9) rotate(-90)" class="yl" text-anchor="middle">50</text>
<text x="249.6" y="260.6" class="num" text-anchor="middle">99</text>
<text x="249.6" y="272.3" class="num" text-anchor="middle">(92)</text>
<path d="M305.4 319.7L306.0 319.8L306.6 319.8L307.2 320.0L307.8 320.0L308.4 320.0L309.0 320.1L309.6 320.0L310.2 319.9L310.8 319.9L311.4 320.1L312.0 320.0L312.6 320.0L313.2 319.3L313.8 318.8L314.4 318.7L315.0 317.6L315.6 316.9L316.2 316.3L316.8 315.1L317.4 314.3L318.0 312.7L318.6 309.4L319.2 307.6L319.8 304.6L320.4 301.7L321.0 299.3L321.6 296.2L322.2 293.9L322.8 291.0L323.4 289.5L324.0 286.9L324.6 284.5L325.2 281.7L325.8 280.7L326.4 281.2L327.0 281.5L327.6 284.0L328.2 287.1L328.8 290.0L329.4 293.2L330.0 295.9L330.6 298.4L331.2 301.0L331.8 301.7L332.4 304.1L333.0 304.9L333.6 307.1L334.2 307.3L334.8 308.5L335.4 311.1L336.0 311.6L336.6 311.2L337.2 312.5L337.8 312.2L338.4 313.5L339.0 314.3L339.6 313.8L340.2 313.9L340.8 314.9L341.4 315.4L342.0 315.4L342.6 315.0L343.2 315.5L343.8 316.4L344.4 316.5L345.0 316.9L345.6 317.2L346.2 316.9L346.8 317.6L347.4 317.7L348.0 318.1L348.6 318.5L349.2 318.5L349.8 319.1L350.4 319.1L351.0 319.6L351.6 319.8L352.2 320.0L352.8 320.1L353.4 320.0L354.0 320.2L354.6 320.4L355.2 320.3L355.8 320.5L355.8 320.5 L305.4 320.5 Z" fill="#cdcdcd" stroke="none"/>
<path d="M305.4 319.7L306.0 319.8L306.6 319.8L307.2 320.0L307.8 320.0L308.4 320.0L309.0 320.1L309.6 320.0L310.2 319.9L310.8 319.9L311.4 320.1L312.0 320.0L312.6 320.0L313.2 319.3L313.8 318.8L314.4 318.7L315.0 317.6L315.6 316.9L316.2 316.3L316.8 315.1L317.4 314.3L318.0 312.7L318.6 309.4L319.2 307.6L319.8 304.6L320.4 301.7L321.0 299.3L321.6 296.2L322.2 293.9L322.8 291.0L323.4 289.5L324.0 286.9L324.6 284.5L325.2 281.7L325.8 280.7L326.4 281.2L327.0 281.5L327.6 284.0L328.2 287.1L328.8 290.0L329.4 293.2L330.0 295.9L330.6 298.4L331.2 301.0L331.8 301.7L332.4 304.1L333.0 304.9L333.6 307.1L334.2 307.3L334.8 308.5L335.4 311.1L336.0 311.6L336.6 311.2L337.2 312.5L337.8 312.2L338.4 313.5L339.0 314.3L339.6 313.8L340.2 313.9L340.8 314.9L341.4 315.4L342.0 315.4L342.6 315.0L343.2 315.5L343.8 316.4L344.4 316.5L345.0 316.9L345.6 317.2L346.2 316.9L346.8 317.6L347.4 317.7L348.0 318.1L348.6 318.5L349.2 318.5L349.8 319.1L350.4 319.1L351.0 319.6L351.6 319.8L352.2 320.0L352.8 320.1L353.4 320.0L354.0 320.2L354.6 320.4L355.2 320.3L355.8 320.5" fill="none" stroke="#151515" stroke-width="1.05" stroke-linejoin="round"/>
<path d="M330.6 299.3 H390.1" stroke="#3a3a3a" stroke-width="0.9" fill="none"/>
<path d="M330.6 298.8 V304.3" stroke="#2a2a2a" stroke-width="1" fill="none"/>
<text transform="translate(364.0 305.9) scale(0.8 1)" class="m1" text-anchor="middle">M1</text>
<path d="M304.4 246.5 H390.6" stroke="#666" stroke-width="1.3" fill="none"/>
<path d="M390.1 246.5 V321.1" stroke="#5a5a5a" stroke-width="1.2" fill="none"/>
<path d="M304.3 246.2 V322.0" stroke="#000" stroke-width="1.2" fill="none"/>
<path d="M303.7 321.1 H390.6" stroke="#000" stroke-width="1.8" fill="none"/>
<path d="M304.3 321.10 h-3.0M304.3 319.61 h-1.4M304.3 318.12 h-1.4M304.3 316.62 h-1.4M304.3 315.13 h-1.4M304.3 313.64 h-2.0M304.3 312.15 h-1.4M304.3 310.66 h-1.4M304.3 309.16 h-1.4M304.3 307.67 h-1.4M304.3 306.18 h-3.0M304.3 304.69 h-1.4M304.3 303.20 h-1.4M304.3 301.70 h-1.4M304.3 300.21 h-1.4M304.3 298.72 h-2.0M304.3 297.23 h-1.4M304.3 295.74 h-1.4M304.3 294.24 h-1.4M304.3 292.75 h-1.4M304.3 291.26 h-3.0M304.3 289.77 h-1.4M304.3 288.28 h-1.4M304.3 286.78 h-1.4M304.3 285.29 h-1.4M304.3 283.80 h-2.0M304.3 282.31 h-1.4M304.3 280.82 h-1.4M304.3 279.32 h-1.4M304.3 277.83 h-1.4M304.3 276.34 h-3.0M304.3 274.85 h-1.4M304.3 273.36 h-1.4M304.3 271.86 h-1.4M304.3 270.37 h-1.4M304.3 268.88 h-2.0M304.3 267.39 h-1.4M304.3 265.90 h-1.4M304.3 264.40 h-1.4M304.3 262.91 h-1.4M304.3 261.42 h-3.0M304.3 259.93 h-1.4M304.3 258.44 h-1.4M304.3 256.94 h-1.4M304.3 255.45 h-1.4M304.3 253.96 h-2.0M304.3 252.47 h-1.4M304.3 250.98 h-1.4M304.3 249.48 h-1.4M304.3 247.99 h-1.4M304.3 246.50 h-3.0" stroke="#000" stroke-width="0.95" fill="none"/>
<path d="M304.90 321.1 v2.8M311.31 321.1 v1.6M315.06 321.1 v1.6M317.72 321.1 v1.6M319.79 321.1 v1.6M321.47 321.1 v1.6M322.90 321.1 v1.6M324.14 321.1 v1.6M325.23 321.1 v1.6M326.20 321.1 v2.8M332.61 321.1 v1.6M336.36 321.1 v1.6M339.02 321.1 v1.6M341.09 321.1 v1.6M342.77 321.1 v1.6M344.20 321.1 v1.6M345.44 321.1 v1.6M346.53 321.1 v1.6M347.50 321.1 v2.8M353.91 321.1 v1.6M357.66 321.1 v1.6M360.32 321.1 v1.6M362.39 321.1 v1.6M364.07 321.1 v1.6M365.50 321.1 v1.6M366.74 321.1 v1.6M367.83 321.1 v1.6M368.80 321.1 v2.8M375.21 321.1 v1.6M378.96 321.1 v1.6M381.62 321.1 v1.6M383.69 321.1 v1.6M385.37 321.1 v1.6M386.80 321.1 v1.6M388.04 321.1 v1.6M389.13 321.1 v1.6M390.10 321.1 v2.8" stroke="#000" stroke-width="0.6" fill="none"/>
<text transform="translate(301.3 331.7) scale(0.78 1)" class="xl">10</text>
<text transform="translate(307.6 328.4) scale(0.85 1)" class="sup">0</text>
<text transform="translate(322.1 331.7) scale(0.78 1)" class="xl">10</text>
<text transform="translate(328.4 328.4) scale(0.85 1)" class="sup">1</text>
<text transform="translate(342.9 331.7) scale(0.78 1)" class="xl">10</text>
<text transform="translate(349.2 328.4) scale(0.85 1)" class="sup">2</text>
<text transform="translate(363.7 331.7) scale(0.78 1)" class="xl">10</text>
<text transform="translate(370.0 328.4) scale(0.85 1)" class="sup">3</text>
<text transform="translate(384.5 331.7) scale(0.78 1)" class="xl">10</text>
<text transform="translate(390.8 328.4) scale(0.85 1)" class="sup">4</text>
<text transform="translate(298.6 321.1) rotate(-90)" class="yl" text-anchor="middle">0</text>
<text transform="translate(298.6 306.2) rotate(-90)" class="yl" text-anchor="middle">10</text>
<text transform="translate(298.6 291.3) rotate(-90)" class="yl" text-anchor="middle">20</text>
<text transform="translate(298.6 276.3) rotate(-90)" class="yl" text-anchor="middle">30</text>
<text transform="translate(298.6 261.4) rotate(-90)" class="yl" text-anchor="middle">40</text>
<text transform="translate(298.6 246.5) rotate(-90)" class="yl" text-anchor="middle">50</text>
<text x="372.9" y="261.1" class="num" text-anchor="middle">26</text>
<text x="372.9" y="272.8" class="num" text-anchor="middle">(36)</text>
<path d="M429.0 316.5L429.6 315.2L430.2 314.9L430.8 316.0L431.4 316.2L432.0 315.2L432.6 315.3L433.2 313.9L433.8 314.0L434.4 314.1L435.0 314.1L435.6 313.5L436.2 314.7L436.8 313.6L437.4 314.2L438.0 311.8L438.6 314.3L439.2 312.2L439.8 314.5L440.4 313.0L441.0 314.3L441.6 314.4L442.2 313.5L442.8 315.8L443.4 316.0L444.0 314.3L444.6 315.6L445.2 316.8L445.8 315.2L446.4 315.6L447.0 317.4L447.6 317.0L448.2 317.7L448.8 317.7L449.4 317.4L450.0 318.4L450.6 318.0L451.2 319.1L451.8 319.3L452.4 318.9L453.0 319.5L453.6 319.7L454.2 319.8L454.8 320.1L455.4 320.4L456.0 320.8L456.6 320.5L457.2 320.5L457.2 321.2 L429.0 321.2 Z" fill="#cdcdcd" stroke="none"/>
<path d="M429.0 316.5L429.6 315.2L430.2 314.9L430.8 316.0L431.4 316.2L432.0 315.2L432.6 315.3L433.2 313.9L433.8 314.0L434.4 314.1L435.0 314.1L435.6 313.5L436.2 314.7L436.8 313.6L437.4 314.2L438.0 311.8L438.6 314.3L439.2 312.2L439.8 314.5L440.4 313.0L441.0 314.3L441.6 314.4L442.2 313.5L442.8 315.8L443.4 316.0L444.0 314.3L444.6 315.6L445.2 316.8L445.8 315.2L446.4 315.6L447.0 317.4L447.6 317.0L448.2 317.7L448.8 317.7L449.4 317.4L450.0 318.4L450.6 318.0L451.2 319.1L451.8 319.3L452.4 318.9L453.0 319.5L453.6 319.7L454.2 319.8L454.8 320.1L455.4 320.4L456.0 320.8L456.6 320.5L457.2 320.5" fill="none" stroke="#151515" stroke-width="1.05" stroke-linejoin="round"/>
<path d="M429.0 289.8L429.6 290.3L430.2 300.9L430.8 306.7L431.4 309.6L432.0 312.0L432.6 314.1L433.2 313.8L433.8 312.6L434.4 311.9L435.0 308.5L435.6 306.8L436.2 305.5L436.8 304.2L437.4 302.9L438.0 300.6L438.6 298.4L439.2 299.0L439.8 297.1L440.4 296.1L441.0 294.2L441.6 293.6L442.2 292.2L442.8 288.8L443.4 287.9L444.0 285.9L444.6 285.1L445.2 287.1L445.8 288.6L446.4 291.8L447.0 296.6L447.6 300.4L448.2 303.8L448.8 308.3L449.4 312.6L450.0 312.9L450.6 315.0L451.2 316.3L451.8 317.0L452.4 318.0L453.0 318.0L453.6 318.8L454.2 318.7L454.8 318.8L455.4 319.6L456.0 319.8L456.6 319.8L457.2 319.8L457.8 320.4L458.4 320.5L459.0 320.6L459.6 321.0" fill="none" stroke="#2a2a2a" stroke-width="0.95" stroke-linejoin="round"/>
<path d="M453.3 300.0 H513.4" stroke="#3a3a3a" stroke-width="0.9" fill="none"/>
<path d="M453.3 294.4 V305.7" stroke="#2a2a2a" stroke-width="1" fill="none"/>
<text transform="translate(486.2 307.0) scale(0.8 1)" class="m1" text-anchor="middle">M1</text>
<path d="M428.1 247.0 H513.9" stroke="#555" stroke-width="1.3" fill="none"/>
<path d="M513.4 247.0 V321.8" stroke="#5a5a5a" stroke-width="1.0" fill="none"/>
<path d="M428.0 246.7 V322.7" stroke="#000" stroke-width="1.2" fill="none"/>
<path d="M427.4 321.8 H513.9" stroke="#000" stroke-width="1.8" fill="none"/>
<path d="M428.0 321.80 h-3.0M428.0 320.30 h-1.4M428.0 318.81 h-1.4M428.0 317.31 h-1.4M428.0 315.82 h-1.4M428.0 314.32 h-2.0M428.0 312.82 h-1.4M428.0 311.33 h-1.4M428.0 309.83 h-1.4M428.0 308.34 h-1.4M428.0 306.84 h-3.0M428.0 305.34 h-1.4M428.0 303.85 h-1.4M428.0 302.35 h-1.4M428.0 300.86 h-1.4M428.0 299.36 h-2.0M428.0 297.86 h-1.4M428.0 296.37 h-1.4M428.0 294.87 h-1.4M428.0 293.38 h-1.4M428.0 291.88 h-3.0M428.0 290.38 h-1.4M428.0 288.89 h-1.4M428.0 287.39 h-1.4M428.0 285.90 h-1.4M428.0 284.40 h-2.0M428.0 282.90 h-1.4M428.0 281.41 h-1.4M428.0 279.91 h-1.4M428.0 278.42 h-1.4M428.0 276.92 h-3.0M428.0 275.42 h-1.4M428.0 273.93 h-1.4M428.0 272.43 h-1.4M428.0 270.94 h-1.4M428.0 269.44 h-2.0M428.0 267.94 h-1.4M428.0 266.45 h-1.4M428.0 264.95 h-1.4M428.0 263.46 h-1.4M428.0 261.96 h-3.0M428.0 260.46 h-1.4M428.0 258.97 h-1.4M428.0 257.47 h-1.4M428.0 255.98 h-1.4M428.0 254.48 h-2.0M428.0 252.98 h-1.4M428.0 251.49 h-1.4M428.0 249.99 h-1.4M428.0 248.50 h-1.4M428.0 247.00 h-3.0" stroke="#000" stroke-width="0.95" fill="none"/>
<path d="M428.60 321.8 v2.8M434.98 321.8 v1.6M438.71 321.8 v1.6M441.36 321.8 v1.6M443.42 321.8 v1.6M445.10 321.8 v1.6M446.52 321.8 v1.6M447.75 321.8 v1.6M448.83 321.8 v1.6M449.80 321.8 v2.8M456.18 321.8 v1.6M459.91 321.8 v1.6M462.56 321.8 v1.6M464.62 321.8 v1.6M466.30 321.8 v1.6M467.72 321.8 v1.6M468.95 321.8 v1.6M470.03 321.8 v1.6M471.00 321.8 v2.8M477.38 321.8 v1.6M481.11 321.8 v1.6M483.76 321.8 v1.6M485.82 321.8 v1.6M487.50 321.8 v1.6M488.92 321.8 v1.6M490.15 321.8 v1.6M491.23 321.8 v1.6M492.20 321.8 v2.8M498.58 321.8 v1.6M502.31 321.8 v1.6M504.96 321.8 v1.6M507.02 321.8 v1.6M508.70 321.8 v1.6M510.12 321.8 v1.6M511.35 321.8 v1.6M512.43 321.8 v1.6M513.40 321.8 v2.8" stroke="#000" stroke-width="0.6" fill="none"/>
<text transform="translate(425.0 332.4) scale(0.78 1)" class="xl">10</text>
<text transform="translate(431.3 329.1) scale(0.85 1)" class="sup">0</text>
<text transform="translate(445.8 332.4) scale(0.78 1)" class="xl">10</text>
<text transform="translate(452.1 329.1) scale(0.85 1)" class="sup">1</text>
<text transform="translate(466.6 332.4) scale(0.78 1)" class="xl">10</text>
<text transform="translate(472.9 329.1) scale(0.85 1)" class="sup">2</text>
<text transform="translate(487.4 332.4) scale(0.78 1)" class="xl">10</text>
<text transform="translate(493.7 329.1) scale(0.85 1)" class="sup">3</text>
<text transform="translate(508.2 332.4) scale(0.78 1)" class="xl">10</text>
<text transform="translate(514.5 329.1) scale(0.85 1)" class="sup">4</text>
<text transform="translate(422.3 321.8) rotate(-90)" class="yl" text-anchor="middle">0</text>
<text transform="translate(422.3 306.8) rotate(-90)" class="yl" text-anchor="middle">10</text>
<text transform="translate(422.3 291.9) rotate(-90)" class="yl" text-anchor="middle">20</text>
<text transform="translate(422.3 276.9) rotate(-90)" class="yl" text-anchor="middle">30</text>
<text transform="translate(422.3 262.0) rotate(-90)" class="yl" text-anchor="middle">40</text>
<text transform="translate(422.3 247.0) rotate(-90)" class="yl" text-anchor="middle">50</text>
<text x="497.1" y="261.7" class="num" text-anchor="middle">1</text>
<text x="68.7" y="8.3" class="ttl" textLength="59.6" lengthAdjust="spacingAndGlyphs">MHC-I (all)</text>
<text x="212.9" y="8.3" class="ttl" textLength="23.4" lengthAdjust="spacingAndGlyphs">HFE</text>
<text x="332.5" y="8.5" class="ttl" textLength="27.3" lengthAdjust="spacingAndGlyphs">CD71</text>
<text x="414.7" y="6.7" class="ttl2" textLength="103.1" lengthAdjust="spacingAndGlyphs"><tspan font-weight="normal">&#946;</tspan>gal (permeabilized cells)</text>
<text x="1.2" y="63.1" class="rl1" textLength="31.2" lengthAdjust="spacingAndGlyphs">Control</text>
<text x="1.2" y="69.9" class="rl2" textLength="29.4" lengthAdjust="spacingAndGlyphs">uninfected</text>
<text x="12.8" y="158.9" class="plus" text-anchor="middle">+</text>
<text x="1.8" y="169.2" class="rl2" textLength="21.9" lengthAdjust="spacingAndGlyphs">SL7207</text>
<text x="6.6" y="178.8" class="rl2" textLength="12.3" lengthAdjust="spacingAndGlyphs">&#946;gal</text>
<text x="12.8" y="272.3" class="plus" text-anchor="middle">+</text>
<text x="1.8" y="282.9" class="rl2" textLength="21.9" lengthAdjust="spacingAndGlyphs">SL7207</text>
<text x="6.6" y="293.4" class="rl2" textLength="12.8" lengthAdjust="spacingAndGlyphs">HFE</text>
</svg>
</body></html>
